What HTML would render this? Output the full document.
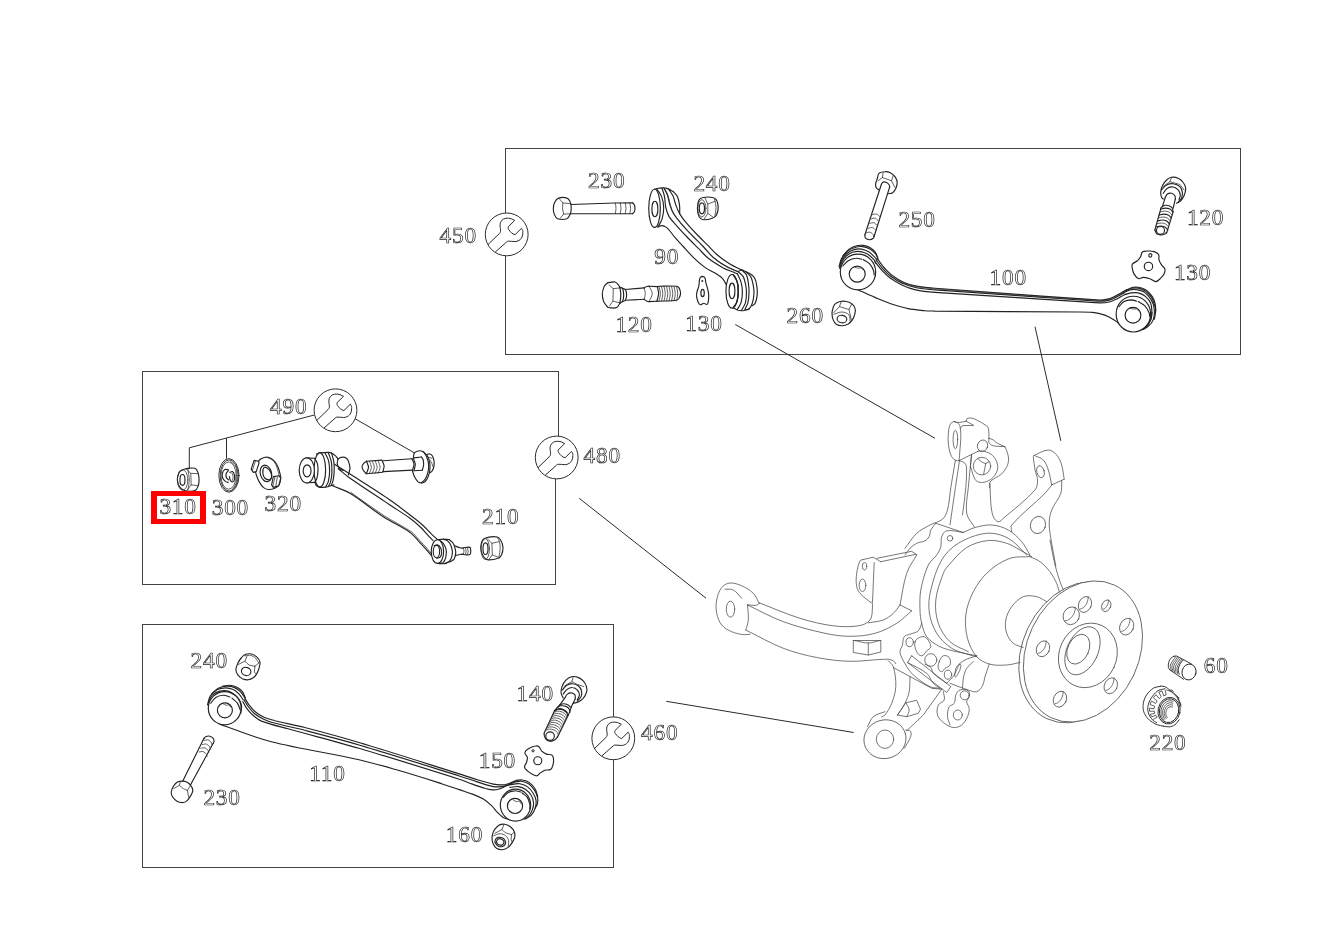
<!DOCTYPE html>
<html><head><meta charset="utf-8"><title>Diagram</title>
<style>
html,body{margin:0;padding:0;background:#fff;}
svg{display:block;position:absolute;left:0;top:0;will-change:transform;}
.d{fill:none;stroke:#222;stroke-width:1.15;stroke-linecap:round;stroke-linejoin:round}
.w{fill:#fff;stroke:#222;stroke-width:1.15;stroke-linecap:round;stroke-linejoin:round}
.c{fill:none;stroke:#222;stroke-width:.9;stroke-linecap:round;stroke-linejoin:round}
.cw{fill:#fff;stroke:#222;stroke-width:.9;stroke-linecap:round;stroke-linejoin:round}
.t{fill:none;stroke:#333;stroke-width:.78;stroke-linecap:round;stroke-linejoin:round}
.k{fill:none;stroke:#4a4a4a;stroke-width:.75;stroke-linecap:round;stroke-linejoin:round}
.kw{fill:#fff;stroke:#4a4a4a;stroke-width:.75;stroke-linecap:round;stroke-linejoin:round}
.b{fill:none;stroke:#434245;stroke-width:1;shape-rendering:crispEdges}
.l{fill:none;stroke:#2b2b2b;stroke-width:1}
.n{font-family:"Liberation Serif",serif;font-size:23.3px;letter-spacing:.8px;fill:none;stroke:#222;stroke-width:.68}
</style></head><body>
<svg width="1326" height="938" viewBox="0 0 1326 938">
<path class="b" d="M505.5,148.5H1240.5V354.5H505.5Z"/>
<path class="b" d="M558.5,436V371.5H142.5V584.5H555.5V479"/>
<path class="b" d="M142.5,624.5H613.5V867.5H142.5Z"/>
<path class="l" d="M735.3,324.5L935,438.3"/>
<path class="l" d="M1035,326.7L1060.8,440.8"/>
<path class="l" d="M579.2,498.3L706,598.2"/>
<path class="l" d="M666.3,701.3L853.7,732.5"/>
<path class="l" d="M314.3,415L189.3,447.8V469"/>
<path class="l" d="M226.5,438.1V458.7"/>
<path class="l" d="M355,418.7L414.4,452.9"/>
<g transform="translate(506.7 234.4)"><circle r="21.4" fill="#fff" stroke="#2b2b2b" stroke-width="1"/><path d="M-18.67,10.1 L-7.44,-0.71 C-6,-2.2 -5.9,-3.5 -6.3,-6 C-6.9,-9 -7,-11.5 -4.95,-14 C-3,-16.3 1,-16.8 4.45,-15.67 L8.02,-14 L1.54,-7.6 C1.2,-6 1.6,-5 2.37,-4.45 C3.5,-2.5 5.5,-0.5 8.36,0.29 L14.84,-6.11 C16,-4.5 16.4,-3 16.09,-1.95 C16.2,0 16,1.5 15.26,2.62 C14.5,4.5 13.5,5.3 12.35,5.94 C11,6.8 9.5,7.2 8.19,7.19 C6,7.3 3.5,6.5 1.54,6.78 C0.8,6.9 0.3,7.2 -0.12,7.61 L-11.35,17.59" fill="none" stroke="#2b2b2b" stroke-width="1" stroke-linejoin="round"/></g>
<g transform="translate(335.5 410.3)"><circle r="21.4" fill="#fff" stroke="#2b2b2b" stroke-width="1"/><path d="M-18.67,10.1 L-7.44,-0.71 C-6,-2.2 -5.9,-3.5 -6.3,-6 C-6.9,-9 -7,-11.5 -4.95,-14 C-3,-16.3 1,-16.8 4.45,-15.67 L8.02,-14 L1.54,-7.6 C1.2,-6 1.6,-5 2.37,-4.45 C3.5,-2.5 5.5,-0.5 8.36,0.29 L14.84,-6.11 C16,-4.5 16.4,-3 16.09,-1.95 C16.2,0 16,1.5 15.26,2.62 C14.5,4.5 13.5,5.3 12.35,5.94 C11,6.8 9.5,7.2 8.19,7.19 C6,7.3 3.5,6.5 1.54,6.78 C0.8,6.9 0.3,7.2 -0.12,7.61 L-11.35,17.59" fill="none" stroke="#2b2b2b" stroke-width="1" stroke-linejoin="round"/></g>
<g transform="translate(556.7 457.5)"><circle r="21.4" fill="#fff" stroke="#2b2b2b" stroke-width="1"/><path d="M-18.67,10.1 L-7.44,-0.71 C-6,-2.2 -5.9,-3.5 -6.3,-6 C-6.9,-9 -7,-11.5 -4.95,-14 C-3,-16.3 1,-16.8 4.45,-15.67 L8.02,-14 L1.54,-7.6 C1.2,-6 1.6,-5 2.37,-4.45 C3.5,-2.5 5.5,-0.5 8.36,0.29 L14.84,-6.11 C16,-4.5 16.4,-3 16.09,-1.95 C16.2,0 16,1.5 15.26,2.62 C14.5,4.5 13.5,5.3 12.35,5.94 C11,6.8 9.5,7.2 8.19,7.19 C6,7.3 3.5,6.5 1.54,6.78 C0.8,6.9 0.3,7.2 -0.12,7.61 L-11.35,17.59" fill="none" stroke="#2b2b2b" stroke-width="1" stroke-linejoin="round"/></g>
<g transform="translate(613.3 738.3)"><circle r="21.4" fill="#fff" stroke="#2b2b2b" stroke-width="1"/><path d="M-18.67,10.1 L-7.44,-0.71 C-6,-2.2 -5.9,-3.5 -6.3,-6 C-6.9,-9 -7,-11.5 -4.95,-14 C-3,-16.3 1,-16.8 4.45,-15.67 L8.02,-14 L1.54,-7.6 C1.2,-6 1.6,-5 2.37,-4.45 C3.5,-2.5 5.5,-0.5 8.36,0.29 L14.84,-6.11 C16,-4.5 16.4,-3 16.09,-1.95 C16.2,0 16,1.5 15.26,2.62 C14.5,4.5 13.5,5.3 12.35,5.94 C11,6.8 9.5,7.2 8.19,7.19 C6,7.3 3.5,6.5 1.54,6.78 C0.8,6.9 0.3,7.2 -0.12,7.61 L-11.35,17.59" fill="none" stroke="#2b2b2b" stroke-width="1" stroke-linejoin="round"/></g>
<path class="d" d="M570.9,204.5 L614.8,203.0 L632.7,202.9" />
<path class="d" d="M632.7,202.9 C633.3,203.6 634.1,204.1 634.4,205.0 C634.8,206.1 635.0,207.4 635.0,208.7 C634.9,209.9 634.7,211.2 634.1,212.3 C633.8,213.0 632.9,213.2 632.3,213.7" />
<path class="d" d="M632.3,213.7 L570.4,213.7" />
<path class="t" d="M615.3,203.0 C615.5,204.8 616.0,206.5 616.0,208.3 C616.0,210.1 615.5,211.9 615.3,213.7" />
<path class="t" d="M620.2,203.0 C620.5,204.8 621.0,206.5 621.0,208.3 C621.0,210.1 620.5,211.9 620.2,213.7" />
<path class="t" d="M625.2,203.0 C625.5,204.8 626.0,206.5 626.0,208.3 C626.0,210.1 625.5,211.9 625.2,213.7" />
<path class="t" d="M629.8,203.0 C630.1,204.8 630.6,206.5 630.6,208.3 C630.6,210.1 630.1,211.9 629.8,213.7" />
<path class="d" d="M558.7,198.1 C561.3,197.1 564.4,197.3 567.0,198.1 C568.4,198.4 569.2,200.0 569.9,201.2 C570.6,202.3 570.8,203.7 571.0,205.0 C571.2,206.3 571.3,207.7 571.2,209.1 C571.1,210.7 571.0,212.3 570.4,213.7 C569.5,215.5 568.7,217.9 566.8,218.7 C563.9,219.8 560.4,219.6 557.5,218.7 C556.0,218.2 555.2,216.4 554.6,214.9 C553.7,213.0 553.3,210.8 553.3,208.7 C553.3,206.6 553.6,204.4 554.6,202.5 C555.5,200.7 556.8,198.7 558.7,198.1Z" />
<path class="t" d="M558.7,198.1 L562.9,202.9 L562.5,209.1 L563.7,214.1 L560.0,218.4" />
<path class="t" d="M562.9,202.9 L570.6,203.7" />
<path class="t" d="M563.7,214.1 L570.4,213.7" />
<path class="d" d="M662.0,188.3 C662.9,191.1 664.0,193.8 664.5,196.6 C665.2,200.2 665.0,203.9 665.8,207.4 C666.5,210.6 667.4,213.8 669.1,216.6 C671.4,220.3 674.6,223.3 677.4,226.6 C680.4,230.0 683.4,233.3 686.6,236.5 C690.4,240.5 694.3,244.3 698.2,248.2 C701.6,251.5 704.5,255.4 708.3,258.3 C712.9,262.0 718.0,265.0 723.2,267.9 C726.7,269.7 730.4,270.9 734.0,272.4 C735.1,272.9 736.3,273.3 737.4,273.7" />
<path class="d" d="M664.1,188.3 C665.2,190.5 666.6,192.6 667.4,195.0 C668.6,198.2 668.9,201.7 669.9,204.9 C670.8,207.8 671.7,210.7 673.3,213.3 C675.6,217.1 678.6,220.6 681.6,224.1 C684.7,227.8 688.1,231.3 691.6,234.9 C695.4,238.8 699.4,242.6 703.2,246.5 C706.6,250.1 709.5,254.2 713.3,257.5 C717.3,261.0 721.9,264.0 726.6,266.6 C730.2,268.7 734.3,269.9 738.2,271.6" />
<path class="t" d="M664.7,188.8 C665.8,191.0 667.2,193.1 668.0,195.5 C669.2,198.7 669.5,202.2 670.5,205.4 C671.4,208.3 672.3,211.2 673.9,213.8 C676.2,217.6 679.2,221.1 682.2,224.6 C685.3,228.3 688.7,231.8 692.2,235.4 C696.0,239.3 700.0,243.1 703.8,247.0 C707.2,250.6 710.1,254.7 713.9,258.0 C717.9,261.5 722.5,264.5 727.2,267.1 C730.8,269.2 734.9,270.4 738.8,272.1" />
<path class="d" d="M668.7,189.1 C670.2,191.6 672.1,194.0 673.3,196.6 C674.4,199.3 674.7,202.2 675.8,204.9 C676.9,208.1 678.2,211.2 679.9,214.1 C681.8,217.3 684.1,220.3 686.6,223.2 C689.7,227.0 693.1,230.5 696.5,234.0 C700.3,238.0 704.3,241.8 708.2,245.7 C711.3,248.8 714.1,252.2 717.4,255.0 C721.3,258.3 725.5,261.4 729.9,264.1 C733.6,266.4 737.6,268.0 741.5,269.9" />
<path class="d" d="M657.9,227.0 C659.1,226.5 660.3,225.6 661.6,225.6 C662.8,225.5 663.9,226.0 664.9,226.6 C666.2,227.2 667.3,228.0 668.3,229.1 C670.7,231.7 672.6,234.7 674.9,237.4 C677.6,240.5 680.5,243.5 683.2,246.5 C686.3,249.9 689.2,253.5 692.5,256.6 C696.4,260.5 700.5,264.2 704.9,267.4 C708.6,270.1 712.8,271.7 716.6,274.1 C718.6,275.4 720.8,276.5 722.4,278.3 C724.0,279.9 724.8,282.1 726.0,284.1" />
<path class="d" d="M673.3,191.6 C674.6,193.3 676.5,194.7 677.4,196.6 C678.6,199.2 679.1,202.1 679.5,204.9 C679.9,207.8 679.7,210.8 679.7,213.7" />
<path class="d" d="M654.6,189.1 C655.8,188.9 657.0,188.5 658.3,188.3 C660.2,188.1 662.2,187.7 664.1,187.9 C665.7,188.0 667.2,188.5 668.7,189.1 C670.3,189.8 671.7,190.8 673.3,191.6" />
<path class="d" d="M656.6,188.7 C658.3,191.4 660.5,193.7 661.6,196.6 C662.9,200.1 663.6,203.8 663.7,207.4 C663.8,211.4 663.2,215.3 662.0,219.1 C661.2,221.9 659.3,224.3 657.9,227.0" />
<ellipse class="w" cx="654.55" cy="208.3" rx="5.8" ry="19.1" />
<ellipse class="d" cx="654.9" cy="208.9" rx="3.0" ry="7.7" />
<path class="d" d="M738.2,271.6 C739.3,271.1 740.3,269.9 741.5,269.9 C743.0,269.9 744.3,271.0 745.7,271.6 C747.4,272.4 749.2,273.0 750.7,274.1 C752.3,275.3 754.0,276.5 754.8,278.3 C756.1,280.8 756.5,283.7 756.9,286.6 C757.3,289.3 757.4,292.1 757.2,294.9 C756.9,297.7 756.4,300.6 755.2,303.2 C754.7,304.4 753.3,304.9 752.3,305.7" />
<path class="d" d="M745.7,271.6 C747.3,273.3 749.5,274.5 750.7,276.6 C752.1,279.1 752.6,282.1 753.2,284.9 C753.7,287.6 754.1,290.4 754.0,293.2 C753.8,296.6 753.4,300.0 752.3,303.2 C751.7,305.3 750.6,307.4 749.0,309.0 C748.2,309.8 746.8,309.6 745.7,309.9" />
<path class="d" d="M741.5,269.9 C743.2,271.6 745.5,272.8 746.5,274.9 C748.0,278.0 748.1,281.5 748.6,284.9 C749.0,287.7 749.1,290.5 749.0,293.2 C748.9,296.6 748.6,300.0 747.8,303.2 C747.2,305.4 745.8,307.4 744.9,309.4" />
<path class="d" d="M738.2,271.6 C739.9,273.3 742.0,274.5 743.2,276.6 C744.6,279.1 745.1,282.1 745.7,284.9 C746.2,287.6 746.6,290.4 746.5,293.2 C746.4,296.6 746.2,300.0 745.3,303.2 C744.5,305.8 742.8,307.9 741.5,310.3" />
<path class="d" d="M737.4,273.7 C738.6,276.6 740.3,279.4 741.1,282.4 C741.9,285.4 742.4,288.5 742.4,291.6 C742.4,295.2 742.1,298.9 741.1,302.4 C740.4,304.9 738.6,307.1 737.4,309.4" />
<path class="d" d="M733.2,274.9 C734.6,277.4 736.6,279.7 737.4,282.4 C738.3,285.3 738.3,288.5 738.2,291.6 C738.1,294.9 738.0,298.3 737.0,301.5 C736.3,303.7 734.5,305.4 733.2,307.4" />
<path class="d" d="M733.2,307.8 C734.9,308.6 736.4,309.7 738.2,310.3 C739.8,310.7 741.5,310.9 743.2,310.7 C745.2,310.5 747.1,309.6 749.0,309.0" />
<ellipse class="w" cx="732.05" cy="291.3" rx="6.1" ry="16.8" />
<path class="d" d="M733.2,274.9 C734.6,277.4 736.6,279.7 737.4,282.4 C738.3,285.3 738.3,288.5 738.2,291.6 C738.1,294.9 738.0,298.3 737.0,301.5 C736.3,303.7 734.5,305.4 733.2,307.4" />
<ellipse class="d" cx="732" cy="290.9" rx="2.9" ry="7.7" />
<path class="d" d="M703.2,197.5 C706.2,196.9 709.3,196.9 712.3,197.5 C713.9,197.8 715.7,198.6 716.5,200.0 C717.8,202.2 718.2,204.9 718.2,207.4 C718.2,210.0 717.7,212.7 716.5,214.9 C715.7,216.5 714.0,217.6 712.3,218.2 C709.4,219.3 706.3,220.1 703.2,219.7 C701.5,219.5 699.8,218.1 699.0,216.6 C697.8,214.1 697.4,211.1 697.4,208.3 C697.4,205.4 697.7,202.4 699.0,200.0 C699.8,198.5 701.6,197.8 703.2,197.5Z" />
<ellipse class="d" cx="701.9" cy="208.3" rx="2.6" ry="5.5" />
<ellipse class="t" cx="701.9" cy="208.3" rx="4.0" ry="8.6" />
<path class="t" d="M704.9,197.7 L707.8,204.1 L707.8,213.3 L704.0,219.2" />
<path class="t" d="M707.8,204.1 L715.2,201.2" />
<path class="t" d="M707.8,213.3 L713.6,217.6" />
<path class="t" d="M714.4,199.0 C715.0,201.8 716.0,204.6 716.1,207.4 C716.1,210.5 715.1,213.5 714.7,216.6" />
<path class="d" d="M607.5,282.9 C606.4,284.1 604.8,285.1 604.1,286.6 C603.1,289.0 602.4,291.5 602.3,294.1 C602.2,296.6 602.8,299.2 603.7,301.6 C604.5,303.6 606.2,305.2 607.5,307.0" />
<path class="d" d="M607.5,282.9 C610.0,282.6 612.5,281.4 615.0,282.0 C616.8,282.5 617.9,284.4 619.1,285.8 C619.6,286.4 619.7,287.2 619.9,287.9" />
<path class="d" d="M607.5,307.0 C608.4,307.3 609.4,307.8 610.4,307.8 C612.5,308.0 614.7,308.5 616.6,307.6 C618.3,306.8 618.8,304.7 619.9,303.2" />
<path class="t" d="M609.1,285.0 L613.3,288.7 L612.9,301.2 L609.6,305.7" />
<path class="t" d="M613.3,288.7 L619.9,287.9" />
<path class="t" d="M612.9,301.2 L619.9,302.8" />
<path class="d" d="M619.9,287.4 C620.2,289.9 620.8,292.4 620.8,294.9 C620.8,297.7 620.2,300.5 619.9,303.2" />
<path class="d" d="M619.9,287.4 C620.8,287.7 622.0,287.5 622.4,288.3 C623.4,290.3 623.7,292.7 623.7,294.9 C623.7,297.2 623.4,299.5 622.4,301.6 C622.0,302.5 620.8,302.7 619.9,303.2" />
<path class="d" d="M622.4,288.3 C623.4,288.7 624.8,288.6 625.3,289.5 C626.3,291.1 626.6,293.1 626.6,294.9 C626.6,296.8 626.3,298.8 625.3,300.3 C624.8,301.2 623.4,301.2 622.4,301.6" />
<path class="d" d="M625.3,289.5 L644.1,287.9" />
<path class="d" d="M625.3,300.3 L644.1,299.3" />
<path class="t" d="M644.1,287.9 C644.5,289.8 645.3,291.7 645.3,293.7 C645.3,295.6 644.5,297.4 644.1,299.3" />
<path class="d" d="M644.1,287.9 C644.9,287.4 645.6,286.8 646.6,286.5 C647.3,286.2 648.2,286.3 649.0,286.2" />
<path class="d" d="M644.1,299.3 C645.0,299.9 645.9,300.7 647.0,301.2 C647.6,301.5 648.4,301.4 649.0,301.6" />
<path class="t" d="M649.0,286.2 C650.1,288.7 652.2,291.0 652.2,293.7 C652.2,296.5 650.1,299.0 649.0,301.6" />
<path class="d" d="M649.0,286.2 L657.4,286.6" />
<path class="d" d="M649.0,301.6 L656.9,301.2" />
<path class="d" d="M657.4,286.6 C657.8,289.0 658.7,291.3 658.6,293.7 C658.5,296.2 657.5,298.7 656.9,301.2" />
<path class="d" d="M657.4,286.6 C657.9,286.5 658.5,286.2 659.0,286.2 C664.8,286.1 670.7,285.7 676.5,286.2 C677.5,286.3 678.5,287.0 679.0,287.9 C679.9,289.5 680.6,291.4 680.6,293.3 C680.6,295.0 679.9,296.7 679.0,298.3 C678.4,299.2 677.6,300.2 676.5,300.3 C670.7,301.2 664.8,300.9 659.0,301.2 C658.3,301.2 657.6,301.2 656.9,301.2" />
<path class="t" d="M659.0,286.4 C659.5,288.8 660.4,291.2 660.4,293.7 C660.4,296.1 659.5,298.5 659.0,300.9" />
<path class="t" d="M661.5,286.4 C662.0,288.8 662.8,291.2 662.8,293.7 C662.8,296.1 662.0,298.5 661.5,300.9" />
<path class="t" d="M664.0,286.4 C664.5,288.8 665.3,291.2 665.3,293.7 C665.3,296.1 664.5,298.5 664.0,300.9" />
<path class="t" d="M666.5,286.4 C666.9,288.8 667.8,291.2 667.8,293.7 C667.8,296.1 666.9,298.5 666.5,300.9" />
<path class="t" d="M669.0,286.4 C669.4,288.8 670.3,291.2 670.3,293.7 C670.3,296.1 669.4,298.5 669.0,300.9" />
<path class="t" d="M671.5,286.4 C671.9,288.8 672.8,291.2 672.8,293.7 C672.8,296.1 671.9,298.5 671.5,300.9" />
<path class="t" d="M674.0,286.4 C674.4,288.8 675.3,291.2 675.3,293.7 C675.3,296.1 674.4,298.5 674.0,300.9" />
<path class="t" d="M676.5,286.4 C676.9,288.8 677.8,291.2 677.8,293.7 C677.8,296.1 676.9,298.5 676.5,300.9" />
<path class="d" d="M702.4,276.4 C703.4,276.5 704.5,277.0 704.9,277.8 C705.7,279.2 705.4,280.9 705.8,282.4 C706.4,284.9 707.3,287.4 707.9,289.9 C708.2,291.5 708.6,293.2 708.7,294.9 C708.8,297.1 708.7,299.4 708.3,301.5 C708.1,302.6 708.0,304.1 707.0,304.4 C705.9,304.9 704.9,303.2 703.7,303.2 C702.5,303.2 701.6,304.9 700.4,304.7 C699.3,304.5 698.7,303.3 698.3,302.4 C697.5,300.5 696.9,298.6 696.6,296.6 C696.4,294.9 696.7,293.2 697.0,291.6 C697.4,289.8 698.3,288.3 698.7,286.6 C699.2,284.4 699.1,282.1 699.5,279.9 C699.7,279.1 699.8,278.1 700.4,277.4 C700.9,276.8 701.7,276.4 702.4,276.4Z" />
<ellipse class="d" cx="702.6" cy="293" rx="1.7" ry="3.7" />
<circle cx="702.3" cy="280.9" r="1" fill="#333"/>
<path class="d" d="M881.5,184.0 L864.9,234.8" />
<path class="d" d="M889.7,186.8 L874.1,236.5" />
<path class="d" d="M864.9,234.8 C865.0,235.8 864.7,237.0 865.3,237.8 C866.4,238.9 868.0,239.6 869.5,239.7 C870.8,239.8 872.2,239.1 873.2,238.3 C873.8,237.9 873.8,237.0 874.1,236.3" />
<path class="t" d="M865.9,233.0 C867.2,232.7 868.6,231.9 869.9,232.2 C871.2,232.4 872.2,233.4 873.1,234.4 C873.6,235.0 873.5,235.9 873.7,236.7" />
<path class="t" d="M872.0,214.7 C873.5,214.5 875.0,213.7 876.6,214.1 C877.8,214.3 878.5,215.6 879.5,216.4" />
<path class="t" d="M870.7,218.9 C872.3,218.7 873.8,217.8 875.3,218.2 C876.6,218.6 877.2,220.0 878.2,220.9" />
<path class="t" d="M869.5,223.4 C871.0,223.2 872.6,222.4 874.1,222.8 C875.3,223.1 876.0,224.6 877.0,225.4" />
<path class="t" d="M868.2,228.4 C869.6,228.1 871.0,227.2 872.4,227.5 C873.7,227.8 874.5,229.2 875.6,230.0" />
<path class="d" d="M879.0,189.9 C878.1,189.1 876.7,188.6 876.1,187.4 C875.5,186.3 875.5,185.0 875.7,183.7 C876.0,181.8 876.8,180.1 877.4,178.3 C877.9,176.6 877.7,174.5 879.0,173.3 C880.6,172.0 882.8,171.7 884.9,171.7 C886.8,171.6 888.9,172.0 890.7,172.9 C892.5,173.8 894.1,175.4 895.3,177.1 C896.3,178.6 897.1,180.6 897.2,182.5 C897.2,184.6 896.6,186.8 895.7,188.7 C894.9,190.3 893.8,191.9 892.3,192.9 C891.2,193.6 889.6,193.4 888.2,193.7" />
<path class="d" d="M881.5,184.0 C882.1,183.3 882.4,182.4 883.2,182.1 C884.3,181.8 885.5,182.0 886.5,182.5 C887.6,183.0 888.5,184.0 889.2,185.0 C889.6,185.5 889.5,186.3 889.7,187.0" />
<path class="t" d="M883.2,172.1 L882.4,177.5 L878.2,180.8" />
<path class="t" d="M882.4,177.5 L891.5,180.8 L894.8,187.4" />
<path class="t" d="M891.5,180.8 L893.3,175.4" />
<path class="d" d="M834.9,304.1 C836.3,302.9 838.0,301.9 839.9,301.5 C842.0,301.0 844.3,301.0 846.5,301.5 C848.6,301.9 850.7,302.7 852.3,304.1 C853.8,305.4 854.8,307.2 855.2,309.1 C855.7,310.7 855.3,312.5 854.8,314.1 C854.3,316.1 853.5,318.2 852.3,319.9 C851.3,321.5 849.9,323.1 848.2,324.1 C846.4,325.1 844.4,325.7 842.4,325.7 C840.4,325.8 838.2,325.5 836.5,324.5 C834.9,323.5 833.9,321.7 833.2,319.9 C832.4,317.8 832.0,315.5 832.0,313.3 C832.0,311.3 832.6,309.3 833.2,307.4 C833.6,306.3 834.0,304.9 834.9,304.1Z" />
<path class="t" d="M834.0,314.3 C836.7,313.5 839.2,311.9 841.9,312.0 C844.5,312.1 847.4,313.0 849.0,314.9 C850.4,316.6 849.7,319.2 850.0,321.4" />
<ellipse class="d" cx="841.9439594246279" cy="319.0787395027854" rx="4.822482747152241" ry="3.741581441756049" transform="rotate(8 841.9439594246279 319.0787395027854)" />
<path class="t" d="M841.1,302.0 L839.4,306.6 L833.4,313.1" />
<path class="t" d="M839.4,306.6 L849.0,309.5 L851.5,320.7" />
<path class="t" d="M849.0,309.5 L851.5,304.3" />
<path class="d" d="M840.4,269.9 C840.8,267.4 840.6,264.8 841.6,262.4 C842.7,259.9 844.6,257.6 846.6,255.8 C848.5,254.1 850.8,252.8 853.3,252.0 C855.7,251.3 858.3,251.2 860.8,251.6 C863.4,252.1 866.0,253.1 868.2,254.5 C870.5,255.9 872.3,257.9 874.1,259.9 C874.9,260.9 875.2,262.2 875.7,263.3" />
<path class="d" d="M839.6,268.3 C840.1,265.8 840.1,263.1 841.2,260.8 C842.5,258.1 844.4,255.7 846.6,253.7 C848.8,251.8 851.4,250.4 854.1,249.6 C856.5,248.8 859.1,248.7 861.6,249.1 C864.2,249.6 866.8,250.6 869.1,252.0 C871.3,253.4 873.0,255.6 874.9,257.4 C875.7,258.2 876.3,259.1 877.0,259.9" />
<path class="d" d="M839.1,266.6 C840.0,263.8 840.3,260.8 841.6,258.3 C843.1,255.6 845.1,253.1 847.4,251.2 C849.6,249.5 852.3,248.3 854.9,247.5 C857.3,246.7 859.9,246.4 862.4,246.6 C865.0,246.9 867.6,247.8 869.9,249.1 C872.1,250.4 874.0,252.2 875.7,254.1 C876.7,255.3 877.1,256.9 877.8,258.3" />
<path class="d" d="M842.9,255.8 C845.0,253.6 846.7,250.9 849.1,249.1 C851.3,247.5 854.0,246.5 856.6,245.8 C858.7,245.2 861.0,245.1 863.2,245.4 C865.8,245.8 868.5,246.5 870.7,247.9 C872.7,249.1 874.4,250.9 875.7,252.9 C876.8,254.5 877.1,256.5 877.8,258.3" />
<path class="d" d="M877.4,258.7 C879.3,261.3 881.1,264.1 883.2,266.6 C885.8,269.6 888.4,272.5 891.5,274.9 C895.4,277.8 899.6,280.4 904.0,282.4 C907.9,284.2 912.2,285.3 916.5,286.1 C922.6,287.3 928.8,287.7 935.0,288.2 C988.9,292.3 1042.7,296.5 1096.6,299.9 C1100.2,300.2 1103.9,299.9 1107.4,299.1 C1110.4,298.5 1113.1,297.1 1115.8,295.8 C1118.3,294.6 1120.7,293.0 1123.2,291.6 C1124.3,291.0 1125.5,290.4 1126.6,289.8" />
<path class="d" d="M876.1,259.9 C878.2,262.7 880.1,265.7 882.4,268.3 C884.9,271.1 887.6,273.9 890.7,276.2 C894.6,279.0 898.7,281.6 903.2,283.6 C907.4,285.6 911.9,286.9 916.5,287.8 C922.6,289.0 928.8,289.4 935.0,289.9 C989.4,293.9 1043.8,297.9 1098.3,301.2 C1101.6,301.4 1105.0,301.1 1108.3,300.4 C1111.2,299.7 1113.9,298.3 1116.6,297.0 C1119.2,295.8 1121.6,294.3 1124.1,292.9" />
<path class="d" d="M874.9,261.6 C877.1,264.4 879.1,267.3 881.5,269.9 C884.1,272.7 886.8,275.5 889.9,277.8 C893.8,280.7 897.9,283.2 902.3,285.3 C906.6,287.3 911.0,288.9 915.6,289.9 C922.0,291.3 928.5,291.9 935.0,292.4 C989.7,296.2 1044.4,299.8 1099.1,302.9 C1102.5,303.0 1105.8,302.8 1109.1,302.0 C1112.0,301.4 1114.7,300.0 1117.4,298.7 C1119.2,297.9 1120.7,296.7 1122.4,295.8 C1123.2,295.3 1124.1,295.0 1124.9,294.5" />
<path class="t" d="M877.9,259.3 C879.8,261.9 881.6,264.7 883.7,267.2 C886.3,270.2 888.9,273.1 892.0,275.5 C895.9,278.4 900.1,281.0 904.5,283.0 C908.4,284.8 912.7,285.9 917.0,286.7 C923.1,287.9 929.3,288.3 935.5,288.8 C989.4,292.9 1043.2,297.1 1097.1,300.5 C1100.7,300.8 1104.4,300.5 1107.9,299.7 C1110.9,299.1 1113.6,297.7 1116.3,296.4 C1118.8,295.2 1121.2,293.6 1123.7,292.2 C1124.8,291.6 1126.0,291.0 1127.1,290.4" />
<path class="d" d="M858.3,289.9 C863.8,292.4 869.3,295.0 874.9,297.4 C880.4,299.7 885.9,302.1 891.5,304.0 C897.0,305.8 902.5,307.5 908.1,308.6 C913.6,309.7 919.2,310.1 924.8,310.7 C928.2,311.0 931.6,311.0 935.0,311.1 C983.3,311.5 1031.7,311.6 1080.0,312.0 C1084.2,312.0 1088.3,312.0 1092.5,312.4 C1095.6,312.7 1098.6,313.2 1101.6,314.1 C1104.5,314.9 1107.3,316.1 1109.9,317.4 C1112.3,318.6 1114.5,320.0 1116.6,321.6 C1117.8,322.5 1118.8,323.8 1119.9,324.9" />
<ellipse class="w" cx="858" cy="272" rx="17.7" ry="17.9" />
<path class="d" d="M842.9,265.8 C844.7,264.1 846.2,262.0 848.3,260.8 C850.6,259.5 853.2,258.6 855.8,258.3 C857.7,258.0 859.6,258.8 861.6,259.1" />
<path class="d" d="M863.2,259.5 C865.5,261.1 868.1,262.1 869.9,264.1 C871.6,266.0 872.7,268.4 873.6,270.8 C874.1,272.1 873.9,273.5 874.1,274.9" />
<ellipse class="d" cx="857.2" cy="274.1" rx="8" ry="8" />
<path class="t" d="M854.5,267.0 C855.8,267.4 857.0,268.1 858.3,268.3 C859.4,268.4 860.5,267.5 861.6,267.8 C862.3,268.1 862.4,269.2 862.8,269.9" />
<path class="d" d="M1124.9,294.5 C1127.1,294.0 1129.3,293.2 1131.6,292.9 C1133.8,292.6 1136.1,292.3 1138.2,292.9 C1140.9,293.6 1143.5,294.8 1145.7,296.6 C1147.8,298.4 1149.7,300.7 1150.7,303.3 C1151.8,306.1 1151.9,309.3 1151.9,312.4 C1151.9,314.9 1151.6,317.5 1150.7,319.9 C1149.7,322.3 1148.2,324.6 1146.5,326.6 C1145.4,327.8 1143.7,328.5 1142.4,329.5" />
<path class="d" d="M1123.2,292.9 C1125.5,291.9 1127.5,290.6 1129.9,290.0 C1132.0,289.4 1134.3,289.3 1136.5,289.6 C1138.8,289.8 1141.2,290.5 1143.2,291.6 C1145.4,292.9 1147.4,294.6 1149.0,296.6 C1150.8,298.8 1152.2,301.4 1153.2,304.1 C1154.1,306.8 1154.4,309.6 1154.4,312.4 C1154.4,314.9 1154.1,317.6 1153.2,319.9 C1152.3,322.1 1150.7,324.1 1149.0,325.7 C1147.3,327.3 1145.1,328.2 1143.2,329.5" />
<path class="d" d="M1124.9,291.2 C1127.1,290.2 1129.2,288.8 1131.6,288.3 C1133.7,287.8 1136.0,287.7 1138.2,288.1 C1140.8,288.7 1143.5,289.7 1145.7,291.2 C1148.0,292.8 1150.0,295.0 1151.5,297.4 C1153.1,300.0 1153.9,302.9 1154.8,305.8 C1155.3,307.4 1155.7,309.1 1155.7,310.8 C1155.6,313.6 1154.8,316.3 1154.4,319.1" />
<path class="d" d="M1126.6,290.0 C1128.8,289.1 1130.9,287.7 1133.2,287.3 C1135.4,286.9 1137.7,287.0 1139.9,287.5 C1142.2,288.0 1144.6,289.0 1146.5,290.4 C1148.8,292.1 1150.8,294.2 1152.3,296.6 C1153.8,298.9 1154.6,301.5 1155.2,304.1 C1155.8,306.3 1155.5,308.5 1155.7,310.8" />
<ellipse class="w" cx="1133.4" cy="314.1" rx="17.25" ry="17.9" />
<path class="d" d="M1119.1,306.6 C1120.7,304.9 1122.0,302.7 1124.1,301.6 C1126.3,300.4 1129.0,300.0 1131.6,299.9 C1133.3,299.9 1134.9,300.8 1136.5,301.2" />
<path class="d" d="M1138.2,301.6 C1140.4,303.0 1143.0,303.9 1144.9,305.8 C1146.7,307.6 1147.9,310.0 1149.0,312.4 C1149.6,313.7 1149.6,315.2 1149.8,316.6" />
<path class="d" d="M1142.4,329.5 C1143.7,328.5 1145.4,327.8 1146.5,326.6 C1148.2,324.6 1149.7,322.3 1150.7,319.9 C1151.6,317.5 1151.5,314.9 1151.9,312.4" />
<ellipse class="d" cx="1133" cy="315.3" rx="7.9" ry="7.9" />
<path class="t" d="M1129.9,308.3 C1131.3,308.5 1132.6,309.0 1134.0,309.1 C1135.2,309.2 1136.3,308.3 1137.4,308.7 C1138.1,309.0 1137.9,310.1 1138.2,310.8" />
<path class="d" d="M1163.2,199.1 C1162.7,198.5 1161.8,198.2 1161.6,197.4 C1161.0,195.8 1160.6,194.1 1160.7,192.4 C1160.9,190.2 1161.4,187.9 1162.4,185.8 C1163.4,183.6 1164.8,181.6 1166.6,180.0 C1167.9,178.7 1169.7,177.6 1171.6,177.3 C1173.8,177.0 1176.2,177.4 1178.2,178.3 C1180.2,179.2 1181.9,180.7 1183.2,182.5 C1184.5,184.1 1185.6,186.2 1185.7,188.3 C1185.8,190.8 1185.0,193.4 1184.0,195.8 C1183.3,197.6 1182.1,199.3 1180.7,200.8 C1179.6,201.9 1177.9,202.4 1176.5,203.2" />
<path class="d" d="M1161.6,189.9 C1163.2,188.3 1164.5,186.1 1166.6,185.0 C1168.6,183.9 1171.0,183.4 1173.2,183.7 C1175.6,184.0 1178.1,184.9 1179.9,186.6 C1181.4,188.1 1182.1,190.3 1182.4,192.4 C1182.6,194.4 1182.3,196.4 1181.5,198.3 C1180.8,199.9 1179.3,201.0 1178.2,202.4" />
<path class="d" d="M1163.2,193.3 C1164.6,191.6 1165.6,189.4 1167.4,188.3 C1169.1,187.2 1171.3,186.7 1173.2,187.0 C1175.1,187.3 1176.9,188.5 1178.2,189.9 C1179.4,191.3 1180.1,193.1 1180.3,194.9 C1180.4,196.6 1179.4,198.3 1179.0,199.9" />
<path class="d" d="M1165.3,197.4 C1166.0,196.3 1166.3,194.8 1167.4,194.1 C1168.6,193.3 1170.2,193.0 1171.6,193.3 C1172.9,193.6 1174.1,194.6 1174.9,195.8 C1175.5,196.7 1175.2,198.0 1175.3,199.1" />
<path class="t" d="M1171.6,177.3 L1169.9,181.6 L1163.2,186.6" />
<path class="t" d="M1169.9,181.6 L1179.9,184.5 L1184.0,189.9" />
<path class="d" d="M1165.3,197.4 L1162.4,206.6" />
<path class="d" d="M1175.3,199.1 L1173.2,208.2" />
<path class="d" d="M1162.4,206.6 C1163.2,206.2 1164.0,205.4 1164.9,205.3 C1166.3,205.2 1167.8,205.2 1169.1,205.7 C1170.3,206.2 1171.6,207.1 1172.4,208.2 C1173.0,209.2 1172.7,210.5 1172.8,211.6" />
<path class="d" d="M1160.7,209.1 L1154.9,229.9" />
<path class="d" d="M1173.2,211.6 L1166.6,233.2" />
<path class="d" d="M1162.4,206.6 C1161.9,207.0 1161.3,207.3 1160.9,207.8 C1160.7,208.2 1160.8,208.7 1160.7,209.1" />
<path class="d" d="M1160.7,209.1 C1162.3,208.7 1163.8,208.1 1165.3,208.1 C1166.9,208.1 1168.5,208.4 1169.9,209.1 C1171.1,209.7 1171.9,211.0 1172.9,212.0" />
<path class="t" d="M1159.9,212.1 C1161.4,211.7 1162.9,211.1 1164.5,211.1 C1166.0,211.1 1167.7,211.3 1169.1,212.1 C1170.3,212.7 1171.1,214.0 1172.0,215.0" />
<path class="d" d="M1159.1,215.1 C1160.6,214.7 1162.1,214.1 1163.7,214.1 C1165.2,214.1 1166.8,214.3 1168.2,215.1 C1169.5,215.7 1170.2,217.0 1171.2,218.0" />
<path class="t" d="M1158.2,218.0 C1159.8,217.7 1161.3,217.0 1162.8,217.0 C1164.4,217.0 1166.0,217.3 1167.4,218.0 C1168.6,218.7 1169.4,220.0 1170.4,221.0" />
<path class="d" d="M1157.4,221.0 C1158.9,220.7 1160.4,220.0 1162.0,220.0 C1163.5,220.0 1165.2,220.3 1166.6,221.0 C1167.8,221.7 1168.6,223.0 1169.6,224.0" />
<path class="t" d="M1156.6,224.0 C1158.1,223.7 1159.6,223.0 1161.2,223.0 C1162.7,223.0 1164.3,223.3 1165.7,224.0 C1167.0,224.7 1167.7,226.0 1168.7,226.9" />
<path class="d" d="M1155.8,227.0 C1157.3,226.7 1158.8,226.0 1160.3,226.0 C1161.9,226.0 1163.5,226.3 1164.9,227.0 C1166.1,227.7 1166.9,229.0 1167.9,229.9" />
<path class="d" d="M1154.9,229.9 C1155.5,231.1 1155.6,232.7 1156.6,233.6 C1157.7,234.6 1159.3,234.9 1160.7,235.0 C1162.2,235.1 1163.6,234.6 1164.9,234.0 C1165.6,233.7 1166.0,232.9 1166.6,232.3" />
<ellipse class="d" cx="1160.4922258252266" cy="230.43610210360023" rx="4.0" ry="3.9" />
<path class="d" d="M1142.4,252.0 C1144.0,250.9 1146.3,251.0 1148.2,251.0 C1150.2,250.9 1152.2,251.0 1154.0,251.6 C1155.8,252.2 1157.7,253.0 1158.6,254.5 C1159.5,256.1 1158.5,258.2 1159.0,259.9 C1159.5,261.7 1160.5,263.4 1161.5,264.9 C1162.5,266.4 1164.4,267.4 1164.9,269.1 C1165.3,270.7 1164.7,272.5 1164.0,274.1 C1163.3,275.7 1162.0,277.0 1160.7,278.2 C1159.2,279.6 1157.7,281.5 1155.7,281.6 C1153.5,281.6 1151.9,279.3 1149.9,278.7 C1147.7,277.9 1145.5,277.4 1143.2,277.4 C1141.7,277.4 1140.1,279.2 1138.7,278.7 C1136.6,277.9 1135.2,275.9 1134.1,274.1 C1133.0,272.3 1132.6,270.3 1132.3,268.3 C1132.0,266.9 1131.6,265.2 1132.4,264.1 C1133.6,262.5 1135.9,262.1 1137.4,260.8 C1138.7,259.6 1139.9,258.2 1140.7,256.6 C1141.5,255.2 1141.1,253.0 1142.4,252.0Z" />
<ellipse class="d" cx="1148.4742662343062" cy="266.4292841107508" rx="4.2" ry="4.2" />
<ellipse class="d" cx="1150.3034838280535" cy="255.37083229400517" rx="1.5" ry="1.8" transform="rotate(20 1150.3034838280535 255.37083229400517)" />
<path class="d" d="M185.8,468.7 C188.8,468.3 192.0,467.4 194.9,468.3 C196.6,468.8 197.3,470.8 197.9,472.4 C198.7,474.8 199.1,477.4 199.1,479.9 C199.1,482.2 198.7,484.5 197.9,486.6 C197.3,488.1 196.5,490.1 194.9,490.6 C191.8,491.6 188.2,491.4 185.0,490.7 C183.0,490.3 181.1,489.0 180.0,487.4 C178.4,485.2 177.5,482.6 177.3,479.9 C177.2,477.4 178.0,474.7 179.1,472.4 C179.8,471.2 181.3,470.6 182.5,469.9 C183.5,469.4 184.6,468.9 185.8,468.7Z" />
<ellipse class="t" cx="182.63823064770932" cy="479.9214267897231" rx="5.2" ry="10.3" />
<ellipse class="d" cx="182.47193813918682" cy="479.9214267897231" rx="2.5" ry="5.4" />
<path class="t" d="M185.8,468.7 L190.8,473.3 L191.2,484.9 L186.6,490.6" />
<path class="t" d="M190.8,473.3 L198.1,473.7" />
<path class="t" d="M191.2,484.9 L198.1,485.7" />
<path class="t" d="M187.9,469.3 C188.3,472.8 189.3,476.3 189.3,479.9 C189.3,483.4 188.3,486.9 187.9,490.3" />
<ellipse class="c" cx="228.95" cy="475.4" rx="10.1" ry="16.8" />
<ellipse class="c" cx="229.2" cy="475.5" rx="9.0" ry="15.6" />
<ellipse class="t" cx="228.6" cy="475.6" rx="7.6" ry="13.6" />
<path class="d" d="M228.6,469.9 C227.4,469.8 226.0,468.9 224.9,469.5 C223.6,470.2 222.7,471.8 222.4,473.3 C222.0,474.9 222.2,476.7 222.8,478.3 C223.3,479.6 224.5,480.7 225.7,481.6 C226.4,482.1 227.4,482.1 228.2,482.4" />
<path class="d" d="M228.2,470.8 C227.5,471.7 226.4,472.5 226.1,473.7 C225.8,475.0 226.0,476.5 226.5,477.8 C226.9,478.8 227.9,479.2 228.6,479.9" />
<path class="d" d="M229.9,472.4 C230.7,472.2 231.6,471.2 232.4,471.6 C233.5,472.2 234.1,473.7 234.4,474.9 C234.8,476.5 234.9,478.3 234.4,479.9 C234.2,480.9 233.3,481.9 232.4,482.0 C231.5,482.1 230.7,481.1 230.3,480.3 C229.7,479.2 229.7,477.8 229.4,476.6" />
<path class="t" d="M231.9,473.3 C232.4,474.4 233.1,475.4 233.2,476.6 C233.3,477.9 232.6,479.1 232.4,480.3" />
<path class="t" d="M230.7,461.6 C232.4,463.3 234.7,464.5 235.7,466.6 C236.9,469.4 236.9,472.7 236.9,475.8 C236.9,478.6 236.6,481.4 235.7,484.1 C235.0,486.1 233.5,487.7 232.4,489.5" />
<path class="d" d="M259.5,460.0 C260.8,458.7 262.4,457.9 264.1,457.5 C265.7,457.1 267.5,456.9 269.1,457.5 C271.0,458.1 272.7,459.4 274.1,460.8 C275.7,462.5 276.9,464.5 277.8,466.6 C278.8,468.7 279.3,471.0 279.9,473.3 C280.3,474.9 280.9,476.6 280.7,478.3 C280.6,480.5 280.2,482.9 279.1,484.9 C278.2,486.4 276.6,487.5 274.9,488.2 C272.8,489.1 270.5,489.6 268.3,489.5 C266.5,489.4 264.6,488.6 263.3,487.4 C261.5,485.8 260.3,483.7 259.1,481.6 C258.1,479.8 257.3,477.8 256.6,475.8 C256.1,474.1 255.4,472.5 255.4,470.8 C255.4,468.8 255.9,466.8 256.6,465.0 C257.3,463.2 258.2,461.3 259.5,460.0Z" />
<path class="t" d="M268.3,458.1 C269.7,458.7 271.3,458.8 272.4,459.8 C273.9,461.1 274.9,462.8 275.8,464.5 C276.7,466.4 277.3,468.4 277.8,470.4 C278.4,472.4 278.8,474.5 279.2,476.6" />
<ellipse class="d" cx="265.9416313295086" cy="473.436018957346" rx="5.6" ry="8.4" transform="rotate(-15 265.9416313295086 473.436018957346)" />
<path class="d" d="M264.1,467.4 C264.9,466.6 266.5,467.6 267.4,468.3 C268.9,469.3 270.0,470.8 270.8,472.4 C271.5,474.0 272.0,475.8 271.6,477.4 C271.3,478.6 270.3,479.8 269.1,479.9 C267.6,480.1 266.0,479.3 264.9,478.3 C263.7,476.9 263.0,475.1 262.9,473.3 C262.7,471.3 262.8,468.9 264.1,467.4Z" />
<path class="w" d="M254.1,460.4 L258.3,461.2 L259.1,462.9 L256.2,471.6 L253.3,472.4 L251.2,469.1Z" />
<path class="t" d="M255.4,461.2 L252.5,469.9" />
<path class="w" d="M273.3,476.6 L279.1,475.8 L280.7,478.3 L278.7,485.7 L273.3,487.4 L271.6,484.9Z" />
<path class="t" d="M274.9,477.0 L272.8,486.6" />
<path class="t" d="M277.4,476.6 L275.8,486.2" />
<path class="d" d="M338.1,458.7 C339.5,458.2 340.8,457.1 342.3,457.1 C343.7,457.0 345.3,457.4 346.4,458.3 C347.7,459.3 348.4,460.9 348.9,462.5 C349.6,464.3 349.8,466.3 350.0,468.3 C350.1,468.9 349.8,469.4 349.7,470.0 C349.3,471.7 348.8,473.3 348.3,475.0" />
<path class="d" d="M338.1,458.7 C337.8,460.5 337.0,462.3 337.3,464.1 C337.6,465.8 338.6,467.4 339.8,468.7 C340.6,469.6 342.0,469.8 343.1,470.4" />
<path class="d" d="M333.7,463.7 C341.3,468.6 349.0,473.4 356.7,478.3 C367.8,485.5 379.1,492.5 390.0,500.0 C396.9,504.7 403.4,509.9 410.0,515.0 C414.2,518.2 418.5,521.4 422.5,525.0 C425.7,527.8 428.5,531.1 431.6,534.1 C433.5,536.0 435.5,537.7 437.4,539.5" />
<path class="d" d="M338.3,468.7 C341.7,471.4 344.8,474.5 348.3,477.0 C362.0,486.6 376.1,495.7 390.0,505.0 C396.7,509.5 403.5,513.6 410.0,518.3 C413.8,521.1 417.4,524.2 420.8,527.5 C423.8,530.3 426.3,533.6 429.1,536.6 C430.3,537.9 431.6,539.1 432.9,540.3" />
<path class="d" d="M332.5,485.8 C338.3,488.3 344.6,490.0 350.0,493.3 C361.6,500.4 372.0,509.3 383.3,516.7 C392.0,522.3 401.5,526.6 410.0,532.4 C413.2,534.7 415.6,537.9 418.3,540.8 C421.2,543.7 423.9,546.8 426.6,549.9 C428.2,551.7 429.7,553.5 431.2,555.3" />
<path class="t" d="M350.9,492.4 C362.0,500.2 372.9,508.4 384.2,515.8 C392.9,521.4 402.4,525.7 410.9,531.5 C414.1,533.8 416.5,537.0 419.2,539.9 C422.1,542.8 424.8,545.9 427.5,549.0 C429.1,550.8 430.6,552.6 432.1,554.4" />
<path class="d" d="M316.5,454.1 C317.6,453.7 318.7,453.1 319.8,452.9 C322.6,452.5 325.4,452.3 328.1,452.3 C329.3,452.3 330.4,452.4 331.5,452.9 C333.0,453.6 334.4,454.7 335.6,455.8 C336.6,456.8 337.3,458.0 338.1,459.1" />
<path class="d" d="M314.8,482.4 C315.4,483.5 315.6,484.9 316.5,485.7 C317.4,486.6 318.6,487.3 319.8,487.4 C322.0,487.7 324.3,487.3 326.5,487.0 C327.9,486.8 329.2,486.1 330.6,485.7 C331.7,485.4 332.8,485.2 334.0,484.9" />
<path class="w" d="M331.5,452.9 C332.2,455.8 333.4,458.6 333.8,461.6 C334.3,465.2 334.3,468.8 334.1,472.4 C334.0,475.2 333.6,478.0 333.0,480.8 C332.6,482.5 331.7,484.1 331.0,485.7" />
<path class="w" d="M328.1,452.3 C329.2,455.4 330.7,458.4 331.3,461.6 C332.0,465.2 332.0,468.8 331.9,472.4 C331.8,475.5 331.4,478.6 330.6,481.6 C330.2,483.4 329.1,484.9 328.3,486.6" />
<path class="w" d="M324.8,452.6 C326.1,455.4 327.8,457.9 328.6,460.8 C329.4,464.3 329.7,468.0 329.6,471.6 C329.6,475.0 329.1,478.3 328.3,481.6 C327.8,483.5 326.5,485.2 325.6,487.0" />
<ellipse class="w" cx="319.8204040907957" cy="469.94387627837364" rx="5.8" ry="17.0" />
<path class="d" d="M314.4,458.3 C315.4,460.0 316.8,461.4 317.3,463.3 C318.0,465.7 318.1,468.3 318.0,470.8 C317.9,473.3 317.6,475.8 316.9,478.3 C316.5,479.8 315.5,481.0 314.8,482.4" />
<path class="d" d="M306.5,457.9 L314.4,458.3" />
<path class="d" d="M306.5,482.8 L314.8,482.4" />
<ellipse class="w" cx="306.8" cy="470.4" rx="7.6" ry="12.5" />
<ellipse class="d" cx="307.1" cy="470.9" rx="3.95" ry="6.0" />
<path class="w" d="M449.1,539.5 C450.5,540.8 452.2,541.7 453.2,543.3 C454.4,545.0 454.9,547.1 455.3,549.1 C455.7,550.7 455.8,552.4 455.6,554.1 C455.3,555.8 455.1,557.6 454.1,559.1 C453.1,560.4 451.3,561.0 449.9,562.0" />
<path class="w" d="M443.3,539.3 C444.6,539.8 446.2,539.9 447.4,540.8 C448.8,541.8 450.0,543.3 450.7,544.9 C451.7,547.0 452.3,549.3 452.4,551.6 C452.5,553.5 452.2,555.5 451.6,557.4 C451.1,558.9 450.3,560.4 449.1,561.6 C447.9,562.6 446.3,562.9 444.9,563.6" />
<path class="w" d="M438.3,539.5 C439.9,540.8 442.0,541.6 443.3,543.3 C444.7,545.2 445.7,547.5 446.2,549.9 C446.6,552.4 446.3,555.0 445.8,557.4 C445.3,559.2 444.6,561.1 443.3,562.4 C442.2,563.4 440.5,563.2 439.1,563.6" />
<path class="d" d="M437.4,539.8 C439.4,539.5 441.3,539.1 443.3,539.1 C445.2,539.1 447.1,539.4 449.1,539.5" />
<path class="d" d="M438.3,563.4 C440.5,563.5 442.7,564.0 444.9,563.6 C446.4,563.4 447.7,562.4 449.1,561.7" />
<ellipse class="w" cx="437.43826390621103" cy="551.5731271306228" rx="6.2" ry="11.8" />
<path class="d" d="M434.1,545.8 C435.2,545.5 436.4,544.5 437.4,544.9 C438.9,545.5 440.1,546.8 440.8,548.2 C441.5,549.8 441.7,551.6 441.6,553.2 C441.5,554.7 441.0,556.3 439.9,557.4 C439.1,558.2 437.7,557.9 436.6,558.2" />
<ellipse class="d" cx="436.4405088550761" cy="551.5731271306228" rx="3.2" ry="6.2" />
<path class="d" d="M454.5,545.8 C456.3,546.4 458.0,547.3 459.9,547.8 C460.8,548.1 461.8,548.1 462.8,548.2" />
<path class="d" d="M455.3,555.7 C456.8,555.3 458.3,554.8 459.9,554.5 C460.8,554.3 461.8,554.2 462.8,554.1" />
<path class="d" d="M462.8,547.8 C465.2,547.7 467.7,546.6 469.9,547.4 C470.9,547.8 470.7,549.6 470.7,550.7 C470.7,552.0 471.0,553.9 469.9,554.5 C467.7,555.5 465.2,554.5 462.8,554.5" />
<path class="t" d="M463.2,547.8 C463.5,548.9 464.0,550.0 464.0,551.2 C464.0,552.3 463.5,553.4 463.2,554.5" />
<path class="t" d="M465.3,547.8 C465.6,548.9 466.1,550.0 466.1,551.2 C466.1,552.3 465.6,553.4 465.3,554.5" />
<path class="t" d="M467.4,547.8 C467.6,548.9 468.2,550.0 468.2,551.2 C468.2,552.3 467.6,553.4 467.4,554.5" />
<path class="d" d="M426.5,454.5 C427.6,454.3 428.7,453.7 429.8,454.0 C430.8,454.2 431.8,454.9 432.3,455.8 C433.2,457.3 433.7,459.0 434.0,460.8 C434.3,462.4 434.3,464.1 434.0,465.8 C433.7,467.5 433.2,469.2 432.3,470.8 C431.8,471.7 430.7,472.1 429.8,472.8" />
<path class="t" d="M428.6,457.3 L431.9,458.3" />
<path class="t" d="M429.8,459.9 C430.5,461.1 431.3,462.1 431.9,463.3 C432.5,464.5 432.7,465.8 433.1,467.0" />
<path class="d" d="M423.2,451.6 C424.6,453.0 426.3,454.1 427.3,455.8 C428.5,457.8 429.2,460.1 429.7,462.4 C430.1,464.9 430.1,467.4 429.8,469.9 C429.6,472.2 429.0,474.4 428.2,476.6 C427.5,478.4 426.6,480.2 425.2,481.6 C424.3,482.5 422.8,482.6 421.5,483.1" />
<path class="w" d="M412.4,470.8 C413.1,472.7 413.5,474.7 414.4,476.6 C415.3,478.4 416.4,480.1 417.8,481.6 C418.5,482.3 419.6,482.9 420.7,482.8 C422.0,482.6 423.1,481.7 424.0,480.7 C425.3,479.3 426.2,477.5 426.9,475.7 C427.8,473.3 428.3,470.8 428.6,468.3 C428.8,466.0 428.6,463.8 428.2,461.6 C427.7,459.3 426.8,457.0 425.7,455.0 C424.8,453.5 423.8,452.0 422.3,451.2 C421.1,450.6 419.5,450.7 418.2,451.0 C416.8,451.3 415.2,451.7 414.4,452.9 C413.5,454.3 413.7,456.2 413.4,457.9" />
<path class="d" d="M414.0,457.9 L421.5,457.0" />
<path class="d" d="M421.5,457.0 C422.1,458.0 422.9,458.9 423.2,459.9 C423.6,461.6 423.7,463.3 423.6,464.9 C423.4,466.8 422.8,468.5 422.3,470.3" />
<path class="d" d="M422.3,470.3 L414.0,470.8" />
<path class="d" d="M413.2,458.3 C413.9,460.2 415.1,462.0 415.3,464.1 C415.4,466.3 414.4,468.4 414.0,470.6" />
<path class="d" d="M411.9,458.7 C412.6,460.5 414.0,462.2 414.0,464.1 C414.1,466.3 412.9,468.3 412.4,470.3" />
<path class="d" d="M383.3,460.8 L411.9,458.7" />
<path class="d" d="M383.3,471.6 L412.4,470.1" />
<path class="d" d="M382.0,460.4 C382.7,462.2 383.9,463.8 384.1,465.8 C384.2,467.8 383.3,469.8 382.8,471.8" />
<path class="d" d="M366.6,461.2 L382.0,460.1" />
<path class="d" d="M366.2,473.7 L382.6,472.2" />
<path class="d" d="M366.6,461.4 C367.2,463.4 368.5,465.3 368.5,467.4 C368.4,469.5 367.1,471.4 366.4,473.4" />
<path class="t" d="M369.5,461.4 C370.1,463.4 371.4,465.3 371.4,467.4 C371.3,469.5 370.0,471.4 369.3,473.4" />
<path class="t" d="M372.4,461.4 C373.1,463.4 374.3,465.3 374.3,467.4 C374.2,469.5 372.9,471.4 372.2,473.4" />
<path class="t" d="M375.4,461.4 C376.0,463.4 377.2,465.3 377.2,467.4 C377.1,469.5 375.8,471.4 375.1,473.4" />
<path class="t" d="M378.3,461.4 C378.9,463.4 380.1,465.3 380.1,467.4 C380.1,469.5 378.7,471.4 378.0,473.4" />
<path class="d" d="M366.6,461.2 C365.7,461.9 364.5,462.4 363.7,463.3 C362.9,464.2 362.1,465.4 362.1,466.6 C362.0,467.9 362.6,469.2 363.3,470.3 C364.1,471.6 365.2,472.6 366.2,473.7" />
<path class="d" d="M484.8,538.3 C488.7,536.7 493.2,536.4 497.3,537.0 C499.0,537.3 500.2,539.2 501.0,540.8 C502.1,542.8 502.9,545.1 503.0,547.4 C503.0,550.0 502.5,552.6 501.5,554.9 C500.8,556.3 499.6,557.7 498.1,558.2 C495.0,559.4 491.5,560.1 488.2,559.9 C486.5,559.8 485.0,558.7 484.0,557.4 C482.5,555.5 481.5,553.1 481.1,550.7 C480.6,548.3 480.6,545.6 481.3,543.3 C481.9,541.3 482.9,539.0 484.8,538.3Z" />
<ellipse class="t" cx="485.2473601064272" cy="549.0787395027854" rx="4.2" ry="10.4" />
<ellipse class="d" cx="485.4967988692109" cy="548.6630082314791" rx="2.5" ry="5.8" />
<path class="t" d="M487.3,538.7 L491.9,543.3 L492.3,554.9 L488.6,559.7" />
<path class="t" d="M491.9,543.3 L499.1,541.6" />
<path class="t" d="M492.3,554.9 L498.6,557.4" />
<path class="t" d="M497.3,537.3 C498.0,538.7 499.0,540.0 499.4,541.6 C500.0,543.8 500.3,546.0 500.2,548.2 C500.1,551.0 499.4,553.8 499.0,556.6" />
<path class="d" d="M241.6,657.5 C242.7,656.2 244.1,654.9 245.7,654.3 C247.6,653.7 249.7,653.5 251.5,654.0 C253.6,654.5 255.4,655.6 256.9,657.1 C258.4,658.4 259.7,660.1 260.0,662.0 C260.4,664.1 259.6,666.3 259.0,668.3 C258.4,670.3 257.6,672.3 256.5,674.1 C255.7,675.5 254.6,676.9 253.2,677.8 C251.7,678.8 250.0,679.6 248.2,679.8 C246.2,679.9 244.2,679.5 242.4,678.7 C240.6,677.8 239.0,676.5 237.8,674.9 C236.7,673.4 235.9,671.4 235.9,669.5 C235.9,667.4 236.9,665.3 237.8,663.3 C238.8,661.2 240.0,659.2 241.6,657.5Z" />
<path class="t" d="M244.9,655.8 C246.8,655.7 248.8,655.0 250.7,655.4 C252.6,655.8 254.3,657.0 255.7,658.3 C257.0,659.5 257.6,661.4 258.6,662.9" />
<path class="t" d="M247.0,656.2 L244.9,661.2 L238.2,664.5" />
<path class="t" d="M244.9,661.2 C246.3,662.5 247.4,664.1 249.0,665.0 C250.8,665.8 252.9,665.8 254.9,666.2" />
<path class="t" d="M254.9,666.2 L259.0,662.9" />
<path class="t" d="M254.9,666.2 L254.4,672.4 L256.5,674.1" />
<ellipse class="d" cx="246.134946370666" cy="671.4405088550761" rx="4.8" ry="4.1" transform="rotate(20 246.134946370666 671.4405088550761)" />
<path class="d" d="M208.3,702.4 C209.7,699.9 210.4,696.9 212.5,694.9 C214.5,693.0 217.2,691.8 219.9,691.1 C222.6,690.5 225.6,690.5 228.3,691.1 C230.7,691.8 232.9,693.3 234.9,694.9 C236.9,696.5 238.6,698.5 239.9,700.7 C240.9,702.5 241.4,704.5 241.6,706.5 C241.7,708.8 241.0,711.0 240.7,713.2" />
<path class="d" d="M207.5,704.9 C208.4,701.8 208.6,698.4 210.4,695.7 C212.1,693.1 214.7,690.9 217.4,689.5 C220.0,688.2 222.9,687.8 225.8,687.8 C228.3,687.8 230.9,688.4 233.2,689.5 C235.5,690.5 237.4,692.3 239.1,694.1 C240.7,695.8 241.8,697.9 243.2,699.9" />
<path class="d" d="M211.6,694.1 C213.8,692.1 215.7,689.6 218.3,688.2 C220.8,686.9 223.7,686.3 226.6,686.2 C229.1,686.0 231.7,686.5 234.1,687.4 C236.2,688.2 238.2,689.6 239.9,691.1 C241.6,692.7 242.8,694.7 244.1,696.6 C244.7,697.6 245.2,698.8 245.7,699.9" />
<path class="d" d="M222.4,686.2 C224.9,685.9 227.4,685.1 229.9,685.3 C232.5,685.5 235.1,686.2 237.4,687.4 C239.3,688.4 241.0,689.9 242.4,691.6 C243.7,693.3 244.3,695.4 245.3,697.4" />
<path class="d" d="M245.3,699.0 C246.6,701.0 247.6,703.0 249.0,704.9 C250.8,707.2 252.6,709.6 254.9,711.5 C257.6,713.8 260.7,715.8 264.0,717.3 C267.4,718.9 271.2,719.7 274.8,720.7 C284.7,723.1 294.8,724.9 304.7,727.5 C322.9,732.2 341.0,737.1 359.0,742.5 C392.8,752.6 426.3,763.5 460.0,774.1 C465.6,775.9 471.0,777.9 476.6,779.5 C482.1,781.2 487.6,782.9 493.3,784.1 C496.0,784.7 498.8,785.0 501.6,784.9 C503.8,784.9 506.1,784.4 508.2,783.7 C511.1,782.8 513.8,781.5 516.5,780.4" />
<path class="d" d="M244.1,699.9 C245.4,702.1 246.6,704.4 248.2,706.5 C250.0,708.9 251.8,711.3 254.0,713.2 C256.8,715.5 260.0,717.4 263.2,719.0 C266.4,720.6 269.7,721.9 273.2,722.8 C283.6,725.7 294.2,727.6 304.7,730.3 C322.8,735.0 341.0,739.7 359.0,745.0 C392.8,755.0 426.4,765.7 460.0,776.2 C465.6,777.9 471.1,779.9 476.6,781.6 C482.2,783.3 487.6,785.5 493.3,786.6 C496.0,787.2 498.8,786.9 501.6,786.6 C503.8,786.4 506.1,785.7 508.2,784.9 C510.5,784.2 512.7,783.0 514.9,782.0" />
<path class="d" d="M242.8,701.5 C244.1,703.8 245.1,706.1 246.6,708.2 C248.3,710.6 250.1,712.9 252.4,714.8 C255.2,717.3 258.1,719.7 261.5,721.1 C270.1,724.4 279.1,726.4 288.0,728.8 C311.6,735.4 335.5,741.4 359.0,748.3 C392.8,758.3 426.4,768.9 460.0,779.5 C464.2,780.9 468.3,782.6 472.5,784.1 C476.6,785.6 480.7,787.1 484.9,788.3 C487.7,789.0 490.4,789.9 493.3,789.9 C495.5,790.0 497.8,789.4 499.9,788.7 C502.2,788.0 504.3,786.6 506.6,785.8 C508.7,785.0 511.0,784.7 513.2,784.1" />
<path class="d" d="M219.7,724.2 C236.9,730.0 253.7,737.2 271.3,741.7 C300.2,749.0 329.9,753.1 359.0,759.7 C372.8,762.8 386.4,766.9 400.0,770.8 C414.0,774.9 427.8,779.3 441.7,783.7 C447.8,785.6 453.9,787.9 460.0,789.9 C464.2,791.3 468.4,792.5 472.5,794.1 C476.2,795.5 479.9,797.0 483.3,799.1 C486.3,800.9 489.0,803.3 491.6,805.7 C493.7,807.7 495.3,810.3 497.4,812.4 C499.2,814.2 501.0,816.1 503.2,817.4 C505.3,818.6 507.7,819.0 509.9,819.9" />
<ellipse class="w" cx="224.7" cy="708.2" rx="16.4" ry="16.6" />
<path class="d" d="M210.8,703.2 C212.5,701.3 213.6,698.7 215.8,697.4 C218.0,696.0 220.7,695.4 223.3,695.3 C225.6,695.2 227.7,696.4 229.9,697.0" />
<path class="d" d="M232.0,698.2 C233.8,699.9 236.0,701.2 237.4,703.2 C238.8,705.2 239.3,707.6 240.3,709.9" />
<ellipse class="d" cx="224.9" cy="710.3" rx="7.5" ry="7.5" />
<path class="t" d="M222.9,703.6 C224.0,704.2 225.0,705.0 226.2,705.3 C227.1,705.5 228.2,704.5 229.1,704.9 C229.8,705.2 229.9,706.3 230.3,706.9" />
<path class="d" d="M509.9,787.4 C512.7,787.2 515.4,786.2 518.2,786.6 C520.9,787.0 523.5,788.0 525.7,789.5 C528.0,791.1 530.1,793.3 531.5,795.8 C532.8,798.0 533.4,800.7 533.6,803.2 C533.7,805.5 533.1,807.8 532.3,809.9 C531.6,812.0 530.5,814.0 529.0,815.7 C527.6,817.3 525.7,818.2 524.0,819.4" />
<path class="d" d="M513.2,784.1 C515.4,784.0 517.7,783.3 519.9,783.7 C522.5,784.2 525.2,785.0 527.3,786.6 C529.7,788.3 531.6,790.8 533.2,793.3 C534.6,795.5 535.7,798.1 536.1,800.7 C536.4,803.2 536.0,805.8 535.2,808.2 C534.5,810.6 533.2,813.0 531.5,814.9 C529.9,816.7 527.6,817.6 525.7,819.0" />
<path class="d" d="M514.9,782.0 C517.1,781.8 519.3,780.9 521.5,781.2 C524.2,781.6 526.8,782.6 529.0,784.1 C531.4,785.8 533.3,788.3 534.8,790.8 C536.2,793.0 537.2,795.6 537.7,798.2 C538.1,800.2 537.8,802.2 537.3,804.1 C537.0,805.6 535.9,806.8 535.2,808.2" />
<path class="d" d="M516.5,780.4 C518.5,780.2 520.4,779.6 522.4,780.0 C525.0,780.4 527.7,781.3 529.8,782.9 C532.1,784.5 533.9,786.7 535.2,789.1 C536.6,791.4 536.9,794.1 537.7,796.6" />
<ellipse class="w" cx="515.5" cy="805.1" rx="15.2" ry="16" />
<path class="d" d="M503.2,797.4 C504.9,795.8 506.2,793.6 508.2,792.4 C510.2,791.3 512.6,790.8 514.9,790.8 C516.9,790.7 518.8,791.6 520.7,792.0" />
<path class="d" d="M521.9,792.8 C523.7,794.4 526.0,795.5 527.3,797.4 C528.7,799.4 529.3,801.8 529.8,804.1 C530.2,805.7 529.8,807.4 529.8,809.1" />
<ellipse class="d" cx="515" cy="805.9" rx="7.6" ry="7.6" />
<path class="t" d="M513.2,799.9 C514.3,800.5 515.3,801.3 516.5,801.6 C517.5,801.8 518.5,800.8 519.4,801.2 C520.2,801.5 520.2,802.5 520.5,803.2" />
<path class="d" d="M182.8,781.1 L204.0,738.3" />
<path class="d" d="M190.3,785.3 L213.2,743.3" />
<path class="d" d="M204.0,738.3 C204.7,737.7 205.3,736.8 206.1,736.5 C207.3,736.1 208.7,735.9 209.9,736.2 C211.1,736.6 212.4,737.3 213.2,738.3 C213.8,739.1 214.0,740.2 214.0,741.2 C214.0,742.0 213.5,742.6 213.2,743.3" />
<path class="t" d="M204.0,740.4 C205.4,740.3 206.9,739.5 208.2,740.0 C209.6,740.4 210.6,741.7 211.5,742.9 C211.9,743.4 211.8,744.2 211.9,744.8" />
<path class="t" d="M202.4,744.6 C203.8,744.4 205.2,743.7 206.5,744.1 C207.9,744.6 209.0,745.9 209.9,747.0 C210.3,747.6 210.1,748.3 210.3,749.0" />
<path class="t" d="M200.7,748.3 C202.1,748.2 203.6,747.4 204.9,747.9 C206.3,748.3 207.3,749.6 208.2,750.8 C208.6,751.3 208.5,752.1 208.6,752.7" />
<path class="t" d="M199.1,752.0 C200.4,751.9 201.9,751.2 203.2,751.6 C204.6,752.1 205.6,753.4 206.5,754.5 C206.9,755.0 206.8,755.8 207.0,756.4" />
<path class="d" d="M182.8,781.1 C181.0,781.1 179.0,781.1 177.4,782.0 C175.6,783.0 174.3,784.8 173.3,786.5 C172.2,788.3 171.3,790.3 171.2,792.4 C171.1,794.1 171.9,795.9 172.9,797.3 C174.0,799.1 175.6,800.6 177.4,801.5 C179.2,802.4 181.3,802.7 183.3,802.5 C184.8,802.3 186.3,801.4 187.4,800.3 C189.0,798.7 190.1,796.8 191.2,794.9 C191.9,793.4 192.9,791.9 192.8,790.3 C192.7,788.5 191.8,786.7 190.7,785.3 C189.7,783.9 188.2,782.8 186.6,782.0 C185.5,781.4 184.1,781.1 182.8,781.1Z" />
<path class="t" d="M180.3,781.6 L179.5,785.3 L173.7,788.6" />
<path class="t" d="M179.5,785.3 C180.8,786.4 181.8,787.7 183.3,788.6 C184.5,789.4 186.0,789.7 187.4,790.3" />
<path class="t" d="M187.4,790.3 L190.3,785.9" />
<path class="t" d="M187.4,790.3 L188.7,797.3" />
<path class="d" d="M563.2,697.9 C562.5,696.3 561.3,694.9 561.1,693.3 C560.9,691.1 561.2,688.7 562.0,686.6 C562.8,684.3 564.0,682.1 565.7,680.4 C567.3,678.8 569.3,677.4 571.5,676.8 C573.4,676.3 575.5,676.4 577.3,677.1 C579.5,677.8 581.6,679.1 583.2,680.8 C584.7,682.4 585.9,684.5 586.5,686.6 C587.0,688.5 587.0,690.6 586.5,692.4 C585.9,694.6 584.6,696.6 583.2,698.3 C581.8,699.8 580.0,701.1 578.2,702.0 C576.6,702.8 574.9,702.8 573.2,703.3" />
<path class="d" d="M562.4,690.0 C563.8,688.4 564.8,686.5 566.5,685.4 C568.3,684.3 570.3,683.6 572.4,683.7 C574.4,683.8 576.5,684.5 578.2,685.8 C579.8,687.0 581.0,688.9 581.5,690.8 C582.0,692.7 581.8,694.8 581.1,696.6 C580.4,698.4 578.6,699.7 577.3,701.2" />
<path class="d" d="M563.2,694.1 C564.6,692.4 565.6,690.4 567.4,689.1 C568.8,688.1 570.6,687.3 572.4,687.5 C574.2,687.6 576.1,688.6 577.3,690.0 C578.6,691.3 579.4,693.1 579.4,694.9 C579.4,696.7 578.0,698.3 577.3,699.9" />
<path class="d" d="M564.9,697.9 C565.7,696.6 566.2,695.0 567.4,694.1 C568.5,693.2 570.1,692.7 571.5,692.9 C572.8,693.0 574.1,693.8 574.9,694.9 C575.5,696.0 575.1,697.4 575.3,698.7" />
<path class="t" d="M573.2,677.1 L571.9,681.6 L567.4,684.1 L564.0,686.6" />
<path class="t" d="M571.9,681.6 L576.5,684.1 L583.6,686.6" />
<path class="d" d="M564.5,698.3 L559.9,704.9" />
<path class="d" d="M575.3,698.7 L571.5,706.6" />
<path class="d" d="M559.9,704.9 C561.0,704.5 562.0,703.7 563.2,703.7 C564.9,703.7 566.7,704.2 568.2,704.9 C569.3,705.4 569.9,706.6 570.7,707.4" />
<path class="d" d="M557.4,707.4 C558.5,706.9 559.5,705.9 560.7,705.8 C562.7,705.6 564.7,705.8 566.5,706.6 C567.8,707.1 568.8,708.3 569.4,709.5 C569.9,710.3 569.7,711.4 569.9,712.4" />
<path class="d" d="M559.9,704.9 L557.4,707.4 L554.5,710.7" />
<path class="d" d="M571.5,706.6 L569.4,712.4 L568.2,715.3" />
<path class="d" d="M554.5,710.7 C555.7,710.0 556.8,708.9 558.2,708.7 C559.9,708.4 561.7,708.8 563.2,709.5 C564.7,710.1 566.1,711.1 567.0,712.4 C567.6,713.3 567.3,714.6 567.5,715.7" />
<path class="d" d="M554.7,711.2 C556.0,710.5 557.0,709.4 558.4,709.2 C560.0,708.9 561.7,709.3 563.2,710.0 C564.6,710.6 565.6,711.9 566.8,712.9" />
<path class="d" d="M554.5,710.7 L544.1,733.2" />
<path class="d" d="M568.2,715.3 L557.4,737.3" />
<path class="t" d="M553.4,713.0 C554.7,712.4 555.8,711.3 557.2,711.2 C558.9,711.0 560.6,711.3 562.2,712.0 C563.6,712.6 565.0,713.6 565.9,714.8 C566.6,715.6 566.5,716.8 566.7,717.8" />
<path class="t" d="M552.4,715.2 C553.7,714.6 554.8,713.6 556.1,713.4 C557.8,713.2 559.6,713.6 561.1,714.2 C562.6,714.8 563.9,715.8 564.9,717.1 C565.5,717.9 565.4,719.1 565.7,720.1" />
<path class="t" d="M551.4,717.5 C552.6,716.9 553.7,715.8 555.1,715.6 C556.8,715.5 558.5,715.8 560.1,716.5 C561.5,717.1 562.9,718.1 563.8,719.3 C564.5,720.1 564.4,721.3 564.7,722.3" />
<path class="t" d="M550.3,719.7 C551.6,719.1 552.7,718.0 554.1,717.9 C555.7,717.7 557.5,718.1 559.1,718.7 C560.5,719.3 561.8,720.3 562.8,721.6 C563.4,722.4 563.4,723.5 563.6,724.5" />
<path class="t" d="M549.3,722.0 C550.5,721.4 551.6,720.3 553.0,720.1 C554.7,719.9 556.5,720.3 558.0,721.0 C559.5,721.6 560.8,722.6 561.8,723.8 C562.4,724.6 562.3,725.8 562.6,726.8" />
<path class="t" d="M548.2,724.2 C549.5,723.6 550.6,722.5 552.0,722.4 C553.7,722.2 555.4,722.6 557.0,723.2 C558.4,723.8 559.8,724.8 560.7,726.0 C561.4,726.9 561.3,728.0 561.6,729.0" />
<path class="t" d="M547.2,726.5 C548.5,725.8 549.6,724.8 550.9,724.6 C552.6,724.4 554.4,724.8 555.9,725.5 C557.4,726.1 558.7,727.1 559.7,728.3 C560.3,729.1 560.2,730.3 560.5,731.3" />
<path class="t" d="M546.2,728.7 C547.4,728.1 548.5,727.0 549.9,726.9 C551.6,726.7 553.3,727.1 554.9,727.7 C556.3,728.3 557.7,729.3 558.6,730.5 C559.3,731.3 559.2,732.5 559.5,733.5" />
<path class="t" d="M545.1,730.9 C546.4,730.3 547.5,729.3 548.9,729.1 C550.5,728.9 552.3,729.3 553.9,729.9 C555.3,730.6 556.6,731.5 557.6,732.8 C558.2,733.6 558.2,734.8 558.4,735.8" />
<path class="d" d="M544.1,733.2 C544.2,734.3 544.2,735.4 544.5,736.5 C544.8,737.4 545.1,738.4 545.8,739.0 C546.9,740.1 548.3,741.2 549.9,741.3 C551.6,741.5 553.4,740.7 554.9,739.8 C556.0,739.2 556.6,737.9 557.4,736.9" />
<ellipse class="d" cx="550.0764945539204" cy="736.1012721376902" rx="4.3" ry="4.2" />
<path class="d" d="M524.9,752.5 C525.4,750.3 527.9,749.1 529.9,747.9 C531.6,746.8 533.7,746.3 535.7,746.0 C536.8,745.8 538.1,745.9 539.0,746.7 C540.3,747.7 540.4,749.7 541.5,750.8 C542.9,752.2 544.7,753.4 546.5,754.1 C548.3,754.9 550.9,754.0 552.3,755.4 C553.7,756.6 553.5,758.9 553.6,760.8 C553.6,762.5 553.3,764.2 552.7,765.8 C552.3,767.1 551.9,768.8 550.7,769.5 C549.0,770.5 546.7,769.7 544.8,770.3 C543.0,771.0 541.4,772.2 539.8,773.3 C538.8,774.0 538.2,775.7 536.9,775.8 C535.0,775.8 533.2,774.6 531.5,773.7 C530.0,772.9 528.6,771.9 527.4,770.8 C526.2,769.7 524.6,768.6 524.5,767.0 C524.3,765.4 526.1,764.1 526.5,762.4 C527.0,760.8 527.6,759.1 527.4,757.5 C527.1,755.6 524.4,754.3 524.9,752.5Z" />
<ellipse class="d" cx="537.7641972229151" cy="760.7865635653113" rx="4.0" ry="4.0" />
<circle cx="533.0" cy="750.8" r="1.1" fill="none" stroke="#222" stroke-width="1"/>
<path class="d" d="M494.9,829.1 C496.2,827.5 497.6,825.8 499.4,824.9 C501.1,824.2 503.1,823.9 504.9,824.3 C507.0,824.7 509.0,825.7 510.7,827.0 C512.3,828.3 513.6,830.1 514.4,832.0 C515.0,833.4 515.1,835.1 514.8,836.6 C514.4,838.7 513.4,840.6 512.3,842.4 C511.2,844.2 509.9,846.1 508.2,847.4 C506.5,848.6 504.4,849.6 502.4,849.7 C500.4,849.9 498.2,849.3 496.5,848.2 C495.0,847.3 493.9,845.7 493.2,844.1 C492.3,842.0 492.0,839.7 492.0,837.4 C492.0,835.7 492.6,834.0 493.2,832.4 C493.6,831.3 494.1,830.1 494.9,829.1Z" />
<path class="t" d="M493.6,835.8 C495.7,835.1 497.7,833.7 499.9,833.7 C501.9,833.7 504.1,834.5 505.7,835.8 C507.2,837.0 508.2,838.9 508.6,840.7 C509.0,842.6 508.3,844.6 508.2,846.6" />
<ellipse class="d" cx="500.281034339403" cy="841.988858401929" rx="5.4" ry="4.6" transform="rotate(25 500.281034339403 841.988858401929)" />
<ellipse class="d" cx="500.281034339403" cy="841.988858401929" rx="3.7" ry="3.1" transform="rotate(25 500.281034339403 841.988858401929)" />
<path class="t" d="M504.0,824.5 L501.9,829.5 L494.9,833.3" />
<path class="t" d="M501.9,829.5 C503.2,830.6 504.2,832.1 505.7,832.8 C507.5,833.8 509.6,834.0 511.5,834.5" />
<path class="t" d="M511.5,834.5 L514.4,832.0" />
<path class="t" d="M511.5,834.5 L511.1,839.9 L512.3,842.4" />
<path class="k" d="M759.2,603.3 C757.2,600.0 756.1,596.1 753.3,593.3 C750.1,590.1 745.9,587.7 741.7,585.8 C738.0,584.2 734.0,582.7 730.0,583.0 C726.9,583.3 723.6,585.0 721.7,587.5 C718.9,591.0 717.5,595.6 716.7,600.0 C715.8,604.4 715.8,609.0 716.7,613.3 C717.5,617.5 719.0,621.7 721.7,625.0 C724.2,628.1 728.0,630.0 731.7,631.7 C735.3,633.3 739.4,634.1 743.3,634.7 C745.5,635.0 747.8,634.3 750.0,634.2" />
<path class="k" d="M725.0,589.2 C727.8,589.4 730.9,588.7 733.3,590.0 C736.8,591.9 738.9,595.6 741.7,598.3" />
<ellipse class="k" cx="730.5" cy="609.2" rx="4.2" ry="8" />
<path class="k" d="M747.5,604.7 C750.3,604.9 753.1,605.7 755.8,605.3 C757.3,605.1 758.4,603.8 759.7,603.0" />
<path class="k" d="M759.7,603.0 C773.1,608.1 786.3,614.1 800.0,618.3 C810.9,621.7 822.0,624.4 833.3,625.8 C841.6,626.9 850.1,627.1 858.3,625.8 C862.6,625.2 867.4,623.5 870.0,620.0 C872.7,616.4 872.0,611.2 872.5,606.7 C872.7,605.0 872.2,603.3 872.0,601.7" />
<path class="k" d="M747.5,605.0 C759.4,610.6 771.0,617.1 783.3,621.7 C796.9,626.6 810.9,630.2 825.0,633.3 C833.2,635.1 841.6,636.3 850.0,636.3 C858.4,636.3 866.9,635.6 875.0,633.3 C882.7,631.2 889.9,627.5 896.7,623.3 C902.2,619.9 906.7,615.0 911.7,610.8" />
<path class="k" d="M868.3,622.8 C873.3,621.9 878.6,621.8 883.3,620.0 C887.1,618.6 890.4,616.0 893.3,613.3 C896.0,611.0 897.8,607.8 900.0,605.0" />
<path class="k" d="M900.0,605.0 L911.7,610.8" />
<path class="k" d="M747.5,605.0 C747.8,610.0 748.7,615.0 748.3,620.0 C748.1,623.4 746.7,626.7 745.8,630.0" />
<path class="k" d="M745.8,630.0 C758.3,636.1 770.4,643.3 783.3,648.3 C794.1,652.5 805.4,655.3 816.7,657.5 C827.6,659.6 838.8,661.1 850.0,661.3 C862.2,661.6 874.4,659.3 886.7,659.2 C889.0,659.1 891.3,659.8 893.3,660.8 C894.5,661.4 895.0,662.7 895.8,663.7" />
<path class="k" d="M853.3,640.5 L853.3,652.5 L868.3,655.0 L880.8,652.0 L880.8,640.5" />
<path class="k" d="M853.3,640.5 L880.8,640.5" />
<path class="k" d="M868.3,643.0 L868.3,655.0" />
<path class="k" d="M854.2,640.5 C858.9,641.3 863.5,643.0 868.3,643.0 C872.3,643.0 876.1,641.3 880.0,640.5" />
<path class="k" d="M862.5,559.7 C861.7,560.1 860.4,560.0 860.0,560.8 C858.3,564.8 857.2,569.1 856.7,573.3 C856.1,577.7 855.8,582.3 856.7,586.7 C857.2,589.5 858.9,592.0 860.8,594.2 C863.7,597.4 867.5,599.7 870.8,602.5" />
<path class="k" d="M862.5,559.7 L873.3,557.2 L880.8,561.7" />
<path class="k" d="M874.2,562.5 C873.9,569.4 873.6,576.4 873.3,583.3 C873.1,589.4 872.8,595.6 872.5,601.7" />
<path class="k" d="M880.8,561.7 L915.8,554.3" />
<path class="k" d="M877.0,558.3 L911.7,551.3 L916.7,554.7" />
<ellipse class="k" cx="864.5" cy="566.2" rx="2.2" ry="3.7" />
<ellipse class="k" cx="862.5" cy="585.3" rx="3.3" ry="6.3" />
<path class="k" d="M916.7,555.0 C913.3,561.1 908.9,566.7 906.7,573.3 C903.3,583.6 902.2,594.4 900.0,605.0" />
<path class="k" d="M954.1,421.6 C953.0,422.2 951.5,422.3 950.8,423.3 C949.5,425.3 949.1,427.7 948.7,430.0 C948.2,433.2 948.1,436.6 948.1,439.9 C948.2,443.0 948.5,446.1 949.1,449.1 C949.7,451.7 950.4,454.3 951.6,456.6 C952.5,458.1 953.8,459.5 955.4,460.3 C956.5,460.9 957.9,460.5 959.1,460.6" />
<path class="k" d="M954.1,421.6 C955.5,422.2 957.3,422.2 958.3,423.3 C959.5,424.6 960.1,426.5 960.4,428.3 C960.9,431.6 960.8,434.9 960.8,438.3 C960.7,442.2 960.2,446.0 959.9,449.9 C959.7,453.5 959.4,457.0 959.1,460.6" />
<ellipse class="k" cx="955.3708322940051" cy="439.5169202627422" rx="2.3" ry="9.3" />
<path class="k" d="M954.1,421.6 C955.6,421.9 957.1,422.5 958.7,422.5 C961.2,422.4 963.7,421.6 966.2,421.2" />
<path class="k" d="M966.2,421.2 C966.5,420.4 966.2,419.2 967.0,418.7 C968.3,418.0 970.1,417.9 971.6,418.1 C973.3,418.4 975.0,419.2 976.6,420.0 C980.0,421.7 983.5,423.5 986.6,425.8 C987.6,426.6 988.4,427.8 988.6,429.1 C989.2,432.1 988.8,435.2 988.9,438.3" />
<path class="k" d="M966.2,421.2 L973.7,425.4 L962.4,425.6 L960.4,428.3" />
<ellipse class="k" cx="982.5596574374324" cy="445.7528893323356" rx="5.1" ry="5.8" transform="rotate(20 982.5596574374324 445.7528893323356)" />
<path class="k" d="M988.9,438.3 C990.3,438.8 991.9,439.1 993.2,439.9 C994.7,440.8 995.8,442.4 997.4,443.3 C999.7,444.6 1002.3,445.5 1004.8,446.6" />
<path class="k" d="M988.9,438.3 C988.9,439.8 988.3,441.5 989.0,442.8 C989.9,444.3 991.6,445.4 993.2,445.8 C997.0,446.6 1001.0,446.3 1004.8,446.6" />
<path class="k" d="M1004.8,446.6 C1005.7,448.5 1006.8,450.4 1007.3,452.4 C1008.0,454.8 1008.7,457.4 1008.6,459.9 C1008.4,462.5 1007.7,465.1 1006.5,467.4 C1005.3,469.8 1003.5,472.1 1001.5,474.0 C999.6,475.8 997.0,476.7 994.9,478.2 C993.1,479.4 990.9,480.4 989.9,482.3 C989.0,483.9 989.6,486.0 989.5,487.8" />
<path class="k" d="M978.2,451.2 C980.5,451.2 982.8,450.8 984.9,451.4 C987.6,452.2 990.3,453.4 992.4,455.3 C994.4,457.2 996.0,459.7 996.9,462.4 C997.8,464.7 998.0,467.4 997.4,469.9 C996.7,472.6 995.1,475.3 993.2,477.3 C991.4,479.3 989.0,480.6 986.6,481.5 C984.5,482.3 982.1,482.7 979.9,482.3 C978.2,482.1 976.2,481.3 975.3,479.8 C973.0,476.1 972.3,471.5 970.8,467.4" />
<ellipse class="k" cx="981.9776336576037" cy="466.12372162634074" rx="8.7" ry="8.8" />
<path class="k" d="M978.2,458.2 C978.9,459.2 979.3,460.4 980.3,461.1 C981.9,462.3 983.9,462.8 985.7,463.6" />
<path class="k" d="M985.7,463.6 L989.2,461.7" />
<path class="k" d="M985.7,463.6 L983.6,474.4" />
<path class="k" d="M959.1,460.6 L978.2,451.2" />
<path class="k" d="M971.6,454.5 L970.3,467.4" />
<path class="k" d="M955.4,460.3 C953.8,469.5 952.3,478.6 950.8,487.8 C949.6,495.2 949.4,502.8 947.5,510.0 C946.6,513.4 945.1,516.9 942.5,519.2 C939.0,522.2 934.0,522.8 930.0,525.0 C925.4,527.5 920.5,529.8 916.7,533.3 C912.0,537.7 908.9,543.3 905.0,548.3" />
<path class="k" d="M959.5,460.7 C958.1,469.8 956.7,478.8 955.4,487.8 C953.5,500.2 951.8,512.6 950.0,525.0" />
<path class="k" d="M959.9,460.7 C961.6,461.6 963.7,461.8 964.9,463.2 C966.1,464.5 966.5,466.5 966.6,468.2 C966.8,474.7 966.3,481.3 965.8,487.8 C965.0,496.9 963.6,505.9 962.5,515.0" />
<path class="k" d="M971.6,454.5 C970.5,465.6 969.2,476.7 968.3,487.8 C967.5,496.3 965.4,504.9 966.7,513.3 C967.4,518.4 971.7,522.2 974.2,526.7" />
<path class="k" d="M990.0,483.3 C990.3,490.0 990.2,496.7 990.8,503.3 C991.3,507.8 991.6,512.5 993.3,516.7 C994.2,518.8 996.0,521.3 998.3,521.7 C1000.3,522.0 1001.8,519.6 1003.3,518.3 C1014.1,509.1 1025.6,500.6 1035.0,490.0 C1037.3,487.4 1037.5,483.4 1037.5,480.0 C1037.5,476.6 1035.6,473.4 1035.0,470.0 C1034.2,465.6 1033.9,461.1 1033.3,456.7" />
<path class="k" d="M1033.3,455.8 C1038.3,453.9 1043.0,450.2 1048.3,450.0 C1051.6,449.9 1054.5,452.6 1056.7,455.0 C1059.1,457.8 1060.6,461.4 1061.7,465.0 C1063.1,469.6 1063.3,474.4 1064.2,479.2" />
<path class="k" d="M1064.2,479.2 L1051.7,485.0" />
<path class="k" d="M1035.0,455.8 C1037.8,457.2 1041.2,457.7 1043.3,460.0 C1045.9,462.7 1047.2,466.5 1048.3,470.0 C1050.0,474.9 1050.6,480.0 1051.7,485.0" />
<ellipse class="k" cx="1040.5" cy="471.7" rx="3.7" ry="6.0" transform="rotate(-15 1040.5 471.7)" />
<path class="k" d="M1061.7,480.8 C1061.4,485.0 1062.2,489.4 1060.8,493.3 C1058.8,499.3 1054.0,504.1 1051.7,510.0 C1050.0,514.2 1049.2,518.8 1049.2,523.3 C1049.2,530.1 1050.6,536.7 1051.7,543.3 C1052.9,550.9 1054.4,558.4 1055.8,566.0" />
<path class="k" d="M1051.7,485.0 C1049.4,487.8 1047.5,490.8 1045.0,493.3 C1034.2,504.2 1021.7,513.4 1011.7,525.0 C1010.2,526.7 1011.7,529.4 1011.7,531.7" />
<ellipse class="k" cx="1038" cy="525" rx="7.5" ry="8.7" transform="rotate(20 1038 525)" />
<path class="k" d="M935.8,523.3 L963.3,532.5" />
<path class="k" d="M963.3,532.5 C967.2,530.8 970.9,528.6 975.0,527.5 C980.4,526.1 986.1,524.6 991.7,525.0 C997.5,525.4 1003.3,527.2 1008.3,530.0 C1013.5,532.9 1017.8,537.2 1021.7,541.7 C1025.1,545.6 1027.2,550.6 1030.0,555.0" />
<path class="k" d="M935.8,523.3 C934.2,525.6 932.1,527.5 930.8,530.0 C929.8,532.0 930.3,534.6 929.2,536.7 C928.2,538.4 926.7,539.9 925.0,540.8 C922.4,542.2 919.3,542.0 916.7,543.3 C914.2,544.6 912.0,546.4 910.0,548.3 C908.0,550.3 906.7,552.8 905.0,555.0" />
<ellipse class="k" cx="950" cy="538.3" rx="2.8" ry="2.8" />
<path class="k" d="M963.3,532.5 C957.8,531.9 952.2,529.7 946.7,530.8 C944.2,531.3 942.6,534.3 941.7,536.7 C940.5,539.8 941.7,543.5 940.8,546.7 C940.0,549.7 938.4,552.5 936.7,555.0 C934.2,558.6 930.1,561.0 928.3,565.0 C924.7,572.9 922.4,581.4 920.8,590.0 C919.6,596.6 919.8,603.3 920.0,610.0 C920.1,614.5 920.6,619.0 921.7,623.3 C922.9,627.9 923.8,632.9 926.7,636.7 C930.1,641.1 935.0,644.2 940.0,646.7 C945.2,649.3 951.1,650.3 956.7,651.7 C963.3,653.3 970.0,654.4 976.7,655.8" />
<path class="k" d="M1026.7,555.0 C1020.6,549.4 1015.6,542.2 1008.3,538.3 C1001.8,534.8 994.1,532.6 986.7,533.3 C976.7,534.3 966.9,538.2 958.3,543.3 C951.5,547.3 945.7,553.2 941.7,560.0 C936.3,569.2 933.3,579.7 930.8,590.0 C929.1,597.0 928.2,604.5 929.2,611.7 C930.2,619.3 932.7,626.8 936.7,633.3 C940.4,639.3 945.8,644.4 951.7,648.3 C957.1,651.8 963.8,652.9 970.0,655.0 C972.2,655.7 974.5,656.1 976.7,656.7" />
<path class="k" d="M1031.7,556.7 C1027.8,554.5 1024.0,552.1 1020.0,550.0 C1015.6,547.7 1011.5,544.7 1006.7,543.3 C1000.8,541.5 994.5,539.9 988.3,540.5 C980.8,541.3 973.1,543.5 966.7,547.5 C959.3,552.2 953.9,559.5 948.0,566.0 C946.1,568.1 944.3,570.6 943.3,573.3 C940.2,582.0 936.7,590.8 935.8,600.0 C935.0,607.8 935.8,615.9 938.3,623.3 C940.6,630.2 944.7,636.7 950.0,641.7 C955.0,646.5 962.2,648.4 968.3,651.7" />
<path class="k" d="M1030.0,556.7 C1023.3,557.2 1016.3,556.1 1010.0,558.3 C1002.0,561.2 994.6,566.0 988.3,571.7 C982.2,577.3 977.2,584.3 973.3,591.7 C969.6,598.9 966.8,606.9 965.8,615.0 C964.9,622.7 965.5,630.8 967.5,638.3 C969.2,644.9 972.2,651.5 976.7,656.7 C980.0,660.5 985.1,662.8 990.0,664.2 C995.4,665.7 1001.1,665.3 1006.7,665.0 C1011.2,664.7 1015.6,663.3 1020.0,662.5" />
<path class="k" d="M1030.0,556.7 C1033.3,558.3 1037.0,559.4 1040.0,561.7 C1043.8,564.5 1047.1,567.9 1050.0,571.7 C1052.7,575.2 1054.8,579.3 1056.7,583.3 C1057.9,586.0 1058.3,588.9 1059.2,591.7" />
<path class="k" d="M1046.7,601.7 C1043.3,600.0 1040.3,597.4 1036.7,596.7 C1032.3,595.7 1027.5,595.0 1023.3,596.7 C1018.6,598.6 1014.7,602.6 1011.7,606.7 C1008.8,610.5 1006.7,615.2 1005.8,620.0 C1005.0,624.4 1005.3,629.1 1006.7,633.3 C1007.9,637.1 1010.3,640.7 1013.3,643.3 C1016.1,645.7 1020.0,646.1 1023.3,647.5" />
<path class="k" d="M1050.0,540.0 C1051.7,548.3 1053.0,556.7 1055.0,565.0 C1056.4,570.6 1058.2,576.2 1060.0,581.7 C1060.9,584.5 1062.2,587.2 1063.3,590.0" />
<ellipse class="k" cx="1078.4" cy="652.3" rx="56" ry="73.5" transform="rotate(25.5 1078.4 652.3)"/>
<ellipse class="kw" cx="1083" cy="651.5" rx="56" ry="73.5" transform="rotate(25.5 1083 651.5)"/>
<ellipse class="k" cx="1087.9" cy="655.4" rx="28.7" ry="33" transform="rotate(25 1087.9 655.4)" />
<ellipse class="k" cx="1082.5" cy="650.8" rx="15.5" ry="25.5" transform="rotate(25 1082.5 650.8)" />
<ellipse class="k" cx="1078.3" cy="649.2" rx="10.5" ry="15.7" transform="rotate(25 1078.3 649.2)" />
<ellipse class="k" cx="1085" cy="604.5" rx="6.3" ry="8.2" transform="rotate(25 1085 604.5)" />
<path class="k" d="M1080.3,609.0 C1083.7,609.0 1088.5,603.3 1088.2,596.7"/>
<ellipse class="kw" cx="1071.3" cy="615.8" rx="8.0" ry="9.0" transform="rotate(25 1071.3 615.8)" />
<path class="k" d="M1065.3,620.8 C1069.7,620.8 1075.7,614.4 1075.3,607.2"/>
<ellipse class="k" cx="1106.3" cy="605.8" rx="4.4" ry="6" transform="rotate(25 1106.3 605.8)" />
<path class="k" d="M1103.0,609.1 C1105.4,609.1 1108.7,604.9 1108.5,600.1"/>
<ellipse class="k" cx="1126.7" cy="626.7" rx="6.8" ry="8.6" transform="rotate(25 1126.7 626.7)" />
<path class="k" d="M1121.6,631.4 C1125.3,631.4 1130.4,625.4 1130.1,618.5"/>
<ellipse class="k" cx="1043" cy="648.8" rx="6.4" ry="8.2" transform="rotate(25 1043 648.8)" />
<path class="k" d="M1038.2,653.3 C1041.7,653.3 1046.5,647.6 1046.2,641.0"/>
<ellipse class="k" cx="1110.8" cy="685.8" rx="6.4" ry="8.2" transform="rotate(25 1110.8 685.8)" />
<path class="k" d="M1106.0,690.3 C1109.5,690.3 1114.3,684.6 1114.0,678.0"/>
<ellipse class="k" cx="1060" cy="699.2" rx="6.4" ry="8.2" transform="rotate(25 1060 699.2)" />
<path class="k" d="M1055.2,703.7 C1058.7,703.7 1063.5,698.0 1063.2,691.4"/>
<ellipse class="k" cx="885" cy="739.2" rx="21.2" ry="19.3" transform="rotate(-15 885 739.2)" />
<ellipse class="k" cx="885" cy="739.2" rx="8.7" ry="9.2" />
<path class="k" d="M867.5,726.7 C869.4,723.3 870.4,719.2 873.3,716.7 C876.5,713.9 881.1,713.3 885.0,711.7" />
<path class="k" d="M905.8,730.0 C907.5,730.6 910.0,730.1 910.8,731.7 C911.8,733.7 910.8,736.3 910.0,738.3 C908.6,741.9 906.1,745.0 904.2,748.3" />
<path class="k" d="M888.3,660.8 C890.0,662.8 892.6,664.2 893.3,666.7 C895.2,673.1 896.1,680.0 895.8,686.7 C895.6,692.4 893.7,698.0 891.7,703.3 C890.1,707.5 887.7,711.4 885.0,715.0 C884.3,716.0 882.8,716.1 881.7,716.7" />
<path class="k" d="M910.0,676.7 C909.7,681.7 910.1,686.7 909.2,691.7 C908.4,695.7 906.8,699.6 905.0,703.3 C902.9,707.5 900.0,711.1 897.5,715.0" />
<path class="k" d="M893.3,667.5 L931.7,688.3 L941.7,689.2" />
<path class="k" d="M941.7,689.2 L923.3,715.0 L906.7,730.8" />
<path class="k" d="M897.5,715.0 L905.8,702.8 L916.7,700.3 L920.5,709.2 L918.3,713.3 L906.7,716.7 L897.5,715.0" />
<path class="k" d="M905.8,702.8 C906.9,705.2 909.0,707.4 909.2,710.0 C909.3,712.4 907.5,714.4 906.7,716.7" />
<path class="k" d="M943.3,691.7 C943.6,694.4 945.1,697.4 944.2,700.0 C943.3,702.4 939.4,702.7 938.3,705.0 C937.0,708.1 936.6,711.8 937.5,715.0 C938.4,718.0 940.8,720.5 943.3,722.5 C946.3,724.8 949.6,727.0 953.3,727.5 C956.2,727.9 959.4,726.8 961.7,725.0 C964.4,722.9 966.1,719.8 967.5,716.7 C968.7,714.1 969.3,711.2 969.2,708.3 C969.0,706.0 966.7,704.0 966.7,701.7 C966.7,699.8 968.9,698.5 969.2,696.7 C969.5,694.7 969.9,692.0 968.3,690.8 C966.1,689.2 962.6,689.1 960.0,690.0 C957.9,690.7 956.7,693.0 955.8,695.0 C954.7,697.6 955.6,700.9 954.2,703.3 C953.2,705.1 950.1,704.9 949.2,706.7 C947.7,709.7 947.3,713.3 947.5,716.7 C947.6,719.6 949.2,722.2 950.0,725.0" />
<ellipse class="k" cx="957.8" cy="715" rx="4.5" ry="5" />
<ellipse class="k" cx="964.7" cy="695.3" rx="4.5" ry="4.5" />
<path class="k" d="M921.7,623.3 C920.6,625.8 920.3,629.0 918.3,630.8 C916.1,632.9 912.8,633.0 910.0,634.2 C908.0,635.0 905.4,634.9 904.2,636.7 C902.6,639.0 903.2,642.3 902.5,645.0 C901.8,647.5 899.6,649.9 900.0,652.5 C900.8,657.0 903.5,661.0 905.8,665.0 C908.0,668.6 910.2,672.2 913.3,675.0 C918.4,679.5 923.9,683.6 930.0,686.7 C933.0,688.2 936.7,687.8 940.0,688.3" />
<path class="k" d="M911.7,655.8 L907.5,662.5 L946.7,692.5 L950.8,686.7 L911.7,655.8" />
<path class="k" d="M907.5,662.5 C913.9,666.1 921.0,668.7 926.7,673.3 C929.8,675.8 930.7,680.3 933.3,683.3 C935.2,685.4 937.8,686.7 940.0,688.3" />
<path class="k" d="M925.0,664.2 C926.9,665.3 929.3,665.8 930.8,667.5 C932.3,669.1 931.8,671.8 933.3,673.3 C937.3,677.3 942.2,680.0 946.7,683.3" />
<ellipse class="k" cx="909.7" cy="642.2" rx="3.7" ry="4.5" />
<path class="k" d="M915.0,641.7 C915.9,639.0 919.0,637.4 921.7,636.7 C923.4,636.2 925.5,637.0 926.7,638.3 C928.8,640.6 930.8,643.6 930.8,646.7 C930.8,648.6 928.1,649.4 926.7,650.8 C925.0,652.5 924.0,655.6 921.7,655.8 C919.5,656.0 917.6,653.6 916.7,651.7 C915.2,648.6 913.9,644.9 915.0,641.7Z" />
<ellipse class="k" cx="930.8" cy="660" rx="6" ry="6.3" />
<path class="k" d="M939.2,661.7 C940.1,659.4 941.1,656.8 943.3,655.8 C945.2,655.1 948.0,655.9 949.2,657.5 C950.6,659.5 950.9,662.7 950.0,665.0 C949.3,666.9 946.6,667.1 945.0,668.3 C943.8,669.3 943.2,671.7 941.7,671.7 C940.1,671.7 938.7,669.9 938.3,668.3 C937.8,666.2 938.3,663.7 939.2,661.7Z" />
<ellipse class="k" cx="948" cy="674.7" rx="3.7" ry="4.5" />
<path class="k" d="M976.7,655.8 C972.8,657.2 968.6,658.0 965.0,660.0 C961.9,661.7 958.7,663.8 956.7,666.7 C955.0,669.0 955.7,672.5 954.2,675.0 C952.2,678.2 949.2,680.6 946.7,683.3" />
<path class="k" d="M960.0,664.2 C958.3,665.6 957.5,667.9 956.7,670.0 C955.8,672.1 954.0,674.6 955.0,676.7 C955.7,678.1 957.5,674.7 958.3,673.3 C959.5,671.3 960.4,669.0 960.8,666.7 C961.0,665.8 960.7,663.6 960.0,664.2Z" />
<path class="k" d="M973.3,661.7 C971.1,663.9 968.3,665.6 966.7,668.3 C964.9,671.3 964.0,674.9 963.3,678.3 C962.7,681.6 962.8,685.0 962.5,688.3" />
<path class="k" d="M989.2,664.2 C987.8,668.3 986.3,672.5 985.0,676.7 C984.1,679.7 984.0,683.1 982.5,685.8 C981.2,688.2 979.3,690.9 976.7,691.7 C973.9,692.5 971.0,690.8 968.3,690.0 C962.1,688.1 956.1,685.6 950.0,683.3" />
<path class="c" d="M1174.1,656.2 C1173.0,656.9 1171.6,657.3 1170.7,658.3 C1169.7,659.5 1169.0,661.0 1168.7,662.5 C1168.3,664.1 1168.1,665.8 1168.4,667.4 C1168.6,668.4 1169.4,669.1 1169.9,669.9" />
<path class="c" d="M1174.1,656.2 L1176.6,656.0 L1191.5,664.0" />
<path class="c" d="M1169.9,669.9 L1183.6,679.3" />
<ellipse class="cw" cx="1189.0338405254843" cy="672.0225326349048" rx="7.0" ry="8.0" transform="rotate(15 1189.0338405254843 672.0225326349048)" />
<path class="c" d="M1183.2,660.0 C1182.1,661.4 1180.7,662.5 1179.9,664.1 C1179.0,665.9 1178.4,667.9 1178.2,669.9 C1178.1,671.4 1178.9,672.8 1179.2,674.3" />
<path class="t" d="M1175.6,656.8 C1173.9,659.6 1171.3,662.0 1170.4,665.1 C1169.9,666.9 1171.1,668.8 1171.5,670.7" />
<path class="t" d="M1177.1,657.5 C1175.4,660.2 1173.0,662.6 1172.1,665.6 C1171.5,667.5 1172.7,669.5 1173.0,671.4" />
<path class="t" d="M1178.6,658.1 C1177.0,660.8 1174.6,663.2 1173.7,666.2 C1173.2,668.1 1174.3,670.1 1174.6,672.1" />
<path class="t" d="M1180.2,658.7 C1178.6,661.4 1176.3,663.8 1175.4,666.8 C1174.8,668.7 1175.9,670.8 1176.1,672.8" />
<path class="t" d="M1181.7,659.3 C1180.1,662.0 1177.9,664.4 1177.1,667.3 C1176.5,669.3 1177.5,671.5 1177.7,673.5" />
<path class="c" d="M1160.8,686.2 C1158.3,686.9 1155.5,686.9 1153.3,688.2 C1150.6,689.9 1148.4,692.3 1146.6,694.9 C1145.0,697.4 1143.8,700.3 1143.3,703.2 C1142.8,705.9 1143.0,708.8 1143.7,711.5 C1144.4,714.0 1145.9,716.2 1147.5,718.2 C1148.8,719.9 1150.6,721.1 1152.4,722.3 C1154.0,723.4 1155.7,724.2 1157.4,724.8 C1159.3,725.5 1161.3,725.7 1163.3,726.1" />
<path class="c" d="M1164.9,688.7 C1162.4,689.5 1159.6,689.6 1157.4,691.1 C1154.9,692.9 1152.9,695.5 1151.2,698.2 C1149.6,700.7 1148.3,703.6 1147.9,706.5 C1147.5,709.0 1147.9,711.6 1148.7,714.0 C1149.5,716.2 1150.9,718.1 1152.4,719.8 C1153.6,721.1 1155.2,721.8 1156.6,722.7" />
<path class="c" d="M1160.8,686.2 C1162.1,686.3 1163.7,686.0 1164.9,686.6 C1166.8,687.4 1168.3,689.0 1169.9,690.3 C1172.2,692.1 1174.7,693.5 1176.6,695.7 C1178.1,697.6 1179.0,700.1 1179.9,702.4 C1180.4,703.7 1180.6,705.1 1180.9,706.5" />
<path class="c" d="M1163.3,726.1 C1165.2,726.3 1167.1,727.1 1169.1,726.9 C1171.1,726.7 1173.2,726.0 1174.9,724.8 C1176.7,723.6 1177.7,721.5 1179.1,719.8" />
<ellipse class="cw" cx="1169.0787395027853" cy="710.6855408663839" rx="11.0" ry="13.4" transform="rotate(12 1169.0787395027853 710.6855408663839)" />
<ellipse class="c" cx="1169.0787395027853" cy="710.6855408663839" rx="9.6" ry="12.0" transform="rotate(12 1169.0787395027853 710.6855408663839)" />
<path class="t" d="M1173.0,701.4 C1172.3,701.2 1171.6,700.9 1170.9,700.8 C1170.2,700.7 1169.4,700.8 1168.7,700.9 C1167.9,701.1 1167.2,701.4 1166.5,701.8 C1165.8,702.2 1165.2,702.7 1164.6,703.3 C1164.0,703.9 1163.4,704.5 1162.9,705.3 C1162.5,706.0 1162.1,706.8 1161.8,707.7 C1161.5,708.6 1161.2,709.4 1161.1,710.4 C1161.0,711.2 1160.9,712.2 1161.0,713.1 C1161.1,713.9 1161.2,714.8 1161.5,715.7 C1161.7,716.5 1162.1,717.2 1162.5,717.9 C1162.9,718.6 1163.5,719.2 1164.0,719.8" />
<path class="t" d="M1172.8,703.3 C1172.2,703.1 1171.7,702.8 1171.0,702.8 C1170.4,702.7 1169.8,702.8 1169.2,702.9 C1168.5,703.1 1167.9,703.3 1167.3,703.6 C1166.7,704.0 1166.2,704.4 1165.7,704.9 C1165.1,705.4 1164.7,706.0 1164.3,706.6 C1163.9,707.3 1163.5,708.0 1163.3,708.7 C1163.0,709.4 1162.8,710.2 1162.7,711.0 C1162.6,711.8 1162.6,712.5 1162.6,713.3 C1162.7,714.1 1162.8,714.8 1163.0,715.5 C1163.2,716.2 1163.5,716.9 1163.9,717.5 C1164.2,718.1 1164.7,718.5 1165.1,719.0" />
<path class="t" d="M1172.7,705.2 C1172.2,705.0 1171.7,704.8 1171.2,704.8 C1170.7,704.7 1170.1,704.8 1169.6,704.9 C1169.1,705.0 1168.6,705.2 1168.1,705.5 C1167.6,705.8 1167.2,706.1 1166.7,706.5 C1166.3,707.0 1165.9,707.5 1165.6,708.0 C1165.3,708.5 1165.0,709.1 1164.8,709.7 C1164.5,710.3 1164.4,711.0 1164.3,711.6 C1164.2,712.3 1164.2,712.9 1164.2,713.6 C1164.3,714.2 1164.4,714.8 1164.5,715.4 C1164.7,716.0 1165.0,716.5 1165.3,717.0 C1165.5,717.5 1166.0,717.9 1166.3,718.3" />
<path class="t" d="M1172.5,707.1 C1172.1,707.0 1171.7,706.8 1171.3,706.8 C1170.9,706.7 1170.5,706.7 1170.1,706.8 C1169.7,706.9 1169.3,707.1 1168.9,707.3 C1168.5,707.6 1168.2,707.9 1167.8,708.2 C1167.5,708.5 1167.2,708.9 1166.9,709.3 C1166.7,709.8 1166.4,710.2 1166.3,710.7 C1166.1,711.2 1166.0,711.7 1165.9,712.2 C1165.8,712.8 1165.8,713.3 1165.8,713.8 C1165.9,714.3 1165.9,714.8 1166.1,715.3 C1166.2,715.7 1166.4,716.2 1166.6,716.6 C1166.9,716.9 1167.2,717.3 1167.4,717.6" />
<path class="t" d="M1165.2,690.0 L1166.1,694.9 L1163.7,695.8 L1162.0,691.0 L1158.8,692.1 L1161.2,696.6 L1159.1,698.6 L1156.0,694.7 L1153.3,697.8 L1157.1,700.9 L1155.7,703.4 L1151.4,701.1 L1150.0,704.6 L1154.6,706.1 L1154.0,708.7 L1149.3,708.1 L1149.6,711.3 L1154.3,711.1 L1154.8,713.4 L1150.2,714.3 L1151.8,716.8 L1156.0,715.3 L1157.2,717.2 L1153.4,719.3" />
<path class="t" d="M1166.6,689.9 C1168.2,690.6 1170.1,690.9 1171.6,692.0 C1173.6,693.5 1175.5,695.3 1177.0,697.4 C1178.2,699.1 1178.8,701.3 1179.7,703.2" />
<path class="t" d="M1176.6,695.7 L1179.2,698.2 L1178.1,699.2" />
<path class="t" d="M1179.9,702.4 L1181.1,704.7 L1179.9,705.5" />
<path class="t" d="M1169.9,690.3 L1172.0,689.9 L1173.2,691.6" />
<path d="M151,491H206V524H151Z M157,496H200V519H157Z" fill="#f00" fill-rule="evenodd" shape-rendering="crispEdges"/>
<text class="n" x="439.6" y="242.5">450</text>
<text class="n" x="588.1" y="188.0">230</text>
<text class="n" x="693.4" y="190.9">240</text>
<text class="n" x="654.2" y="263.8">90</text>
<text class="n" x="615.4" y="331.9">120</text>
<text class="n" x="685.3" y="331.0">130</text>
<text class="n" x="786.5" y="323.4">260</text>
<text class="n" x="898.4" y="226.7">250</text>
<text class="n" x="989.5" y="284.6">100</text>
<text class="n" x="1186.9" y="224.6">120</text>
<text class="n" x="1173.9" y="280.4">130</text>
<text class="n" x="270.0" y="414.3">490</text>
<text class="n" x="583.6" y="462.6">480</text>
<text class="n" x="159.4" y="513.9">310</text>
<text class="n" x="211.7" y="514.6">300</text>
<text class="n" x="264.6" y="510.8">320</text>
<text class="n" x="482.1" y="524.3">210</text>
<text class="n" x="190.6" y="667.6">240</text>
<text class="n" x="309.2" y="781.3">110</text>
<text class="n" x="203.4" y="805.4">230</text>
<text class="n" x="516.6" y="701.3">140</text>
<text class="n" x="478.7" y="767.6">150</text>
<text class="n" x="445.8" y="841.7">160</text>
<text class="n" x="641.0" y="740.3">460</text>
<text class="n" x="1203.8" y="672.6">60</text>
<text class="n" x="1149.2" y="750.3">220</text>
</svg>
</body></html>
